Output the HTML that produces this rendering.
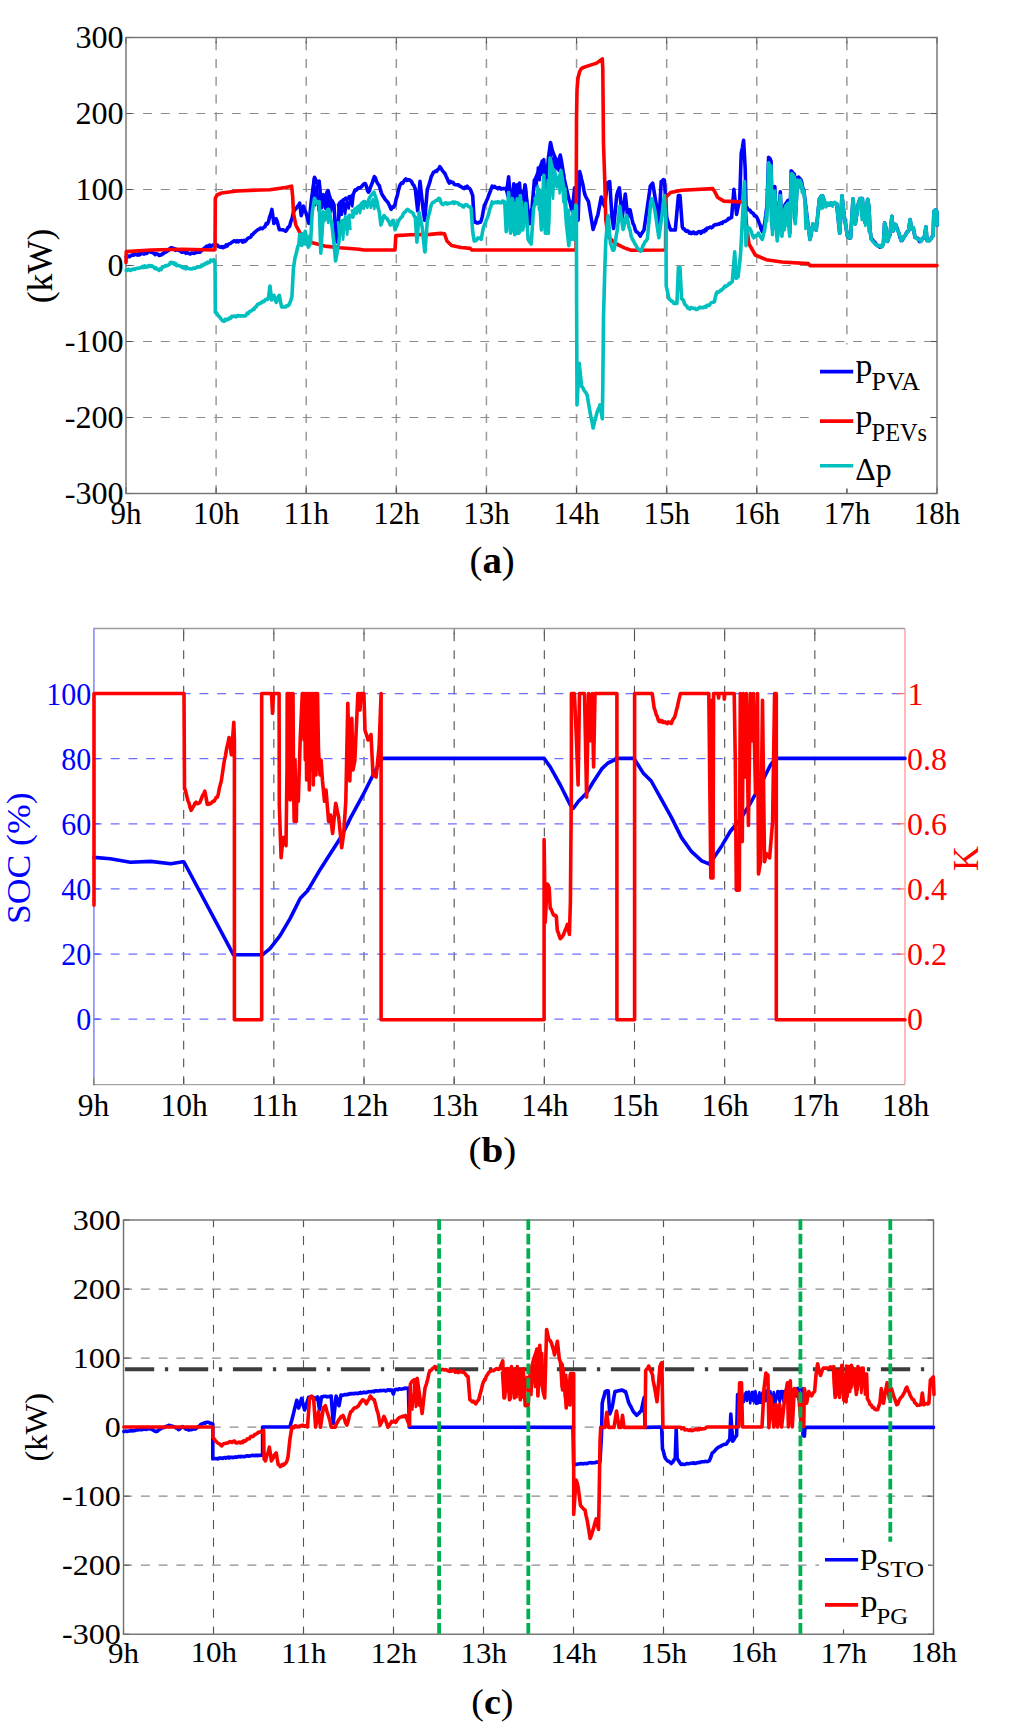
<!DOCTYPE html>
<html><head><meta charset="utf-8"><title>Figure</title>
<style>html,body{margin:0;padding:0;background:#fff;overflow:hidden} svg{display:block}</style></head>
<body><svg width="1024" height="1733" viewBox="0 0 1024 1733">
<rect width="1024" height="1733" fill="#fff"/>
<line x1="216.11" y1="37.5" x2="216.11" y2="493.5" stroke="#9a9a9a" stroke-width="1.5" stroke-dasharray="8.9 8.85" stroke-dashoffset="-3.85"/>
<line x1="306.22" y1="37.5" x2="306.22" y2="493.5" stroke="#9a9a9a" stroke-width="1.5" stroke-dasharray="8.9 8.85" stroke-dashoffset="-3.85"/>
<line x1="396.33" y1="37.5" x2="396.33" y2="493.5" stroke="#9a9a9a" stroke-width="1.5" stroke-dasharray="8.9 8.85" stroke-dashoffset="-3.85"/>
<line x1="486.44" y1="37.5" x2="486.44" y2="493.5" stroke="#9a9a9a" stroke-width="1.5" stroke-dasharray="8.9 8.85" stroke-dashoffset="-3.85"/>
<line x1="576.56" y1="37.5" x2="576.56" y2="493.5" stroke="#9a9a9a" stroke-width="1.5" stroke-dasharray="8.9 8.85" stroke-dashoffset="-3.85"/>
<line x1="666.67" y1="37.5" x2="666.67" y2="493.5" stroke="#9a9a9a" stroke-width="1.5" stroke-dasharray="8.9 8.85" stroke-dashoffset="-3.85"/>
<line x1="756.78" y1="37.5" x2="756.78" y2="493.5" stroke="#9a9a9a" stroke-width="1.5" stroke-dasharray="8.9 8.85" stroke-dashoffset="-3.85"/>
<line x1="846.89" y1="37.5" x2="846.89" y2="493.5" stroke="#9a9a9a" stroke-width="1.5" stroke-dasharray="8.9 8.85" stroke-dashoffset="-3.85"/>
<line x1="126.0" y1="113.50" x2="937.0" y2="113.50" stroke="#8c8c8c" stroke-width="1.2" stroke-dasharray="8.9 8.85" stroke-dashoffset="0.65"/>
<line x1="126.0" y1="189.50" x2="937.0" y2="189.50" stroke="#8c8c8c" stroke-width="1.2" stroke-dasharray="8.9 8.85" stroke-dashoffset="0.65"/>
<line x1="126.0" y1="265.50" x2="937.0" y2="265.50" stroke="#8c8c8c" stroke-width="1.2" stroke-dasharray="8.9 8.85" stroke-dashoffset="0.65"/>
<line x1="126.0" y1="341.50" x2="937.0" y2="341.50" stroke="#8c8c8c" stroke-width="1.2" stroke-dasharray="8.9 8.85" stroke-dashoffset="0.65"/>
<line x1="126.0" y1="417.50" x2="937.0" y2="417.50" stroke="#8c8c8c" stroke-width="1.2" stroke-dasharray="8.9 8.85" stroke-dashoffset="0.65"/>
<line x1="126.00" y1="493.5" x2="126.00" y2="487.5" stroke="#555" stroke-width="1.1"/>
<line x1="126.00" y1="37.5" x2="126.00" y2="43.5" stroke="#555" stroke-width="1.1"/>
<line x1="216.11" y1="493.5" x2="216.11" y2="487.5" stroke="#555" stroke-width="1.1"/>
<line x1="216.11" y1="37.5" x2="216.11" y2="43.5" stroke="#555" stroke-width="1.1"/>
<line x1="306.22" y1="493.5" x2="306.22" y2="487.5" stroke="#555" stroke-width="1.1"/>
<line x1="306.22" y1="37.5" x2="306.22" y2="43.5" stroke="#555" stroke-width="1.1"/>
<line x1="396.33" y1="493.5" x2="396.33" y2="487.5" stroke="#555" stroke-width="1.1"/>
<line x1="396.33" y1="37.5" x2="396.33" y2="43.5" stroke="#555" stroke-width="1.1"/>
<line x1="486.44" y1="493.5" x2="486.44" y2="487.5" stroke="#555" stroke-width="1.1"/>
<line x1="486.44" y1="37.5" x2="486.44" y2="43.5" stroke="#555" stroke-width="1.1"/>
<line x1="576.56" y1="493.5" x2="576.56" y2="487.5" stroke="#555" stroke-width="1.1"/>
<line x1="576.56" y1="37.5" x2="576.56" y2="43.5" stroke="#555" stroke-width="1.1"/>
<line x1="666.67" y1="493.5" x2="666.67" y2="487.5" stroke="#555" stroke-width="1.1"/>
<line x1="666.67" y1="37.5" x2="666.67" y2="43.5" stroke="#555" stroke-width="1.1"/>
<line x1="756.78" y1="493.5" x2="756.78" y2="487.5" stroke="#555" stroke-width="1.1"/>
<line x1="756.78" y1="37.5" x2="756.78" y2="43.5" stroke="#555" stroke-width="1.1"/>
<line x1="846.89" y1="493.5" x2="846.89" y2="487.5" stroke="#555" stroke-width="1.1"/>
<line x1="846.89" y1="37.5" x2="846.89" y2="43.5" stroke="#555" stroke-width="1.1"/>
<line x1="937.00" y1="493.5" x2="937.00" y2="487.5" stroke="#555" stroke-width="1.1"/>
<line x1="937.00" y1="37.5" x2="937.00" y2="43.5" stroke="#555" stroke-width="1.1"/>
<line x1="126.0" y1="37.50" x2="132.0" y2="37.50" stroke="#555" stroke-width="1.1"/>
<line x1="937.0" y1="37.50" x2="931.0" y2="37.50" stroke="#555" stroke-width="1.1"/>
<line x1="126.0" y1="113.50" x2="132.0" y2="113.50" stroke="#555" stroke-width="1.1"/>
<line x1="937.0" y1="113.50" x2="931.0" y2="113.50" stroke="#555" stroke-width="1.1"/>
<line x1="126.0" y1="189.50" x2="132.0" y2="189.50" stroke="#555" stroke-width="1.1"/>
<line x1="937.0" y1="189.50" x2="931.0" y2="189.50" stroke="#555" stroke-width="1.1"/>
<line x1="126.0" y1="265.50" x2="132.0" y2="265.50" stroke="#555" stroke-width="1.1"/>
<line x1="937.0" y1="265.50" x2="931.0" y2="265.50" stroke="#555" stroke-width="1.1"/>
<line x1="126.0" y1="341.50" x2="132.0" y2="341.50" stroke="#555" stroke-width="1.1"/>
<line x1="937.0" y1="341.50" x2="931.0" y2="341.50" stroke="#555" stroke-width="1.1"/>
<line x1="126.0" y1="417.50" x2="132.0" y2="417.50" stroke="#555" stroke-width="1.1"/>
<line x1="937.0" y1="417.50" x2="931.0" y2="417.50" stroke="#555" stroke-width="1.1"/>
<line x1="126.0" y1="493.50" x2="132.0" y2="493.50" stroke="#555" stroke-width="1.1"/>
<line x1="937.0" y1="493.50" x2="931.0" y2="493.50" stroke="#555" stroke-width="1.1"/>
<rect x="126.0" y="37.5" width="811.0" height="456.0" fill="none" stroke="#707070" stroke-width="1.4"/>
<polyline points="310.0,205.8 311.6,204.6 313.8,179.0 315.3,205.1 317.0,185.4 318.7,211.4" fill="none" stroke="#0000ff" stroke-width="2.6" stroke-linejoin="round"/>
<polyline points="320.0,197.4 321.9,207.6 323.2,194.0 325.3,208.9 326.5,191.8 328.2,210.1 329.5,196.5 330.9,211.8 332.2,201.9 334.2,211.1" fill="none" stroke="#0000ff" stroke-width="2.6" stroke-linejoin="round"/>
<polyline points="338.0,203.5 339.4,216.5 340.7,201.0 341.9,214.8 343.2,199.2 345.2,214.0 346.8,200.0 348.7,208.6 350.8,196.0 352.3,206.4 353.6,195.1" fill="none" stroke="#0000ff" stroke-width="2.6" stroke-linejoin="round"/>
<polyline points="505.6,187.9 507.5,196.4 509.6,187.5 511.4,200.5 513.4,186.2 515.0,201.3 516.7,188.6 518.0,203.8 519.2,184.8 520.9,202.7 522.4,191.0 523.8,199.7 525.8,186.1 527.0,202.2" fill="none" stroke="#0000ff" stroke-width="2.6" stroke-linejoin="round"/>
<polyline points="534.4,180.1 536.6,186.4 537.9,167.6 539.6,180.3 540.8,165.7 542.2,174.6 544.2,163.8 545.9,177.4 547.5,164.4 549.3,173.7 550.7,144.1 551.9,173.5 553.7,158.2 555.7,169.4 557.0,161.7 558.6,170.8 560.8,159.0 562.9,176.3 564.9,174.1" fill="none" stroke="#0000ff" stroke-width="2.6" stroke-linejoin="round"/>
<polyline points="126.2,257.0 127.3,256.1 128.3,256.0 129.4,256.8 130.4,256.2 131.4,255.3 132.5,254.9 133.5,255.2 134.6,254.0 135.6,254.4 136.6,254.6 137.7,255.1 138.7,253.4 139.7,254.8 140.7,254.1 141.8,252.7 142.8,253.3 143.8,254.1 144.8,253.6 145.9,252.6 146.9,253.4 147.9,252.1 148.9,251.7 150.0,251.7 151.0,252.3 152.0,252.3 153.0,253.0 154.0,253.0 155.0,254.6 156.0,253.6 157.0,253.9 158.0,254.2 159.0,255.5 160.0,255.1 161.1,255.0 162.1,253.8 163.2,253.9 164.2,252.7 165.2,252.4 166.3,251.9 167.3,250.4 168.4,250.6 169.4,249.0 170.5,247.9 171.5,247.7 172.5,248.0 173.5,248.9 174.5,248.6 175.5,250.3 176.5,249.3 177.5,249.9 178.5,250.1 179.5,250.7 180.5,250.4 181.5,252.2 182.5,252.3 183.6,252.1 184.7,251.8 185.8,253.3 187.0,252.6 188.1,253.1 189.2,253.6 190.3,254.0 191.3,253.0 192.4,253.0 193.4,253.4 194.5,253.2 195.5,252.5 196.6,252.4 197.6,252.2 198.7,252.0 199.7,252.3 200.8,251.4 201.9,249.9 203.0,249.6 204.2,248.1 205.3,248.5 206.4,246.2 207.5,246.0 208.6,246.7 209.7,245.1 210.8,246.3 212.0,245.8 213.1,244.9 214.2,246.0 215.3,245.3 216.4,245.1 217.5,245.1 218.6,246.6 219.7,246.8 220.8,247.3 221.9,246.6 223.0,247.7 224.1,246.5 225.1,246.8 226.2,244.8 227.3,245.9 228.3,244.3 229.4,243.8 230.5,243.6 231.6,242.4 232.7,241.7 233.9,240.9 235.0,240.9 236.1,241.9 237.2,240.6 238.3,241.8 239.4,240.7 240.5,240.7 241.7,240.6 242.8,242.2 243.9,240.3 245.0,241.4 246.2,240.2 247.3,238.7 248.5,237.9 249.7,237.5 250.8,237.1 251.8,234.8 252.8,234.5 253.9,233.0 254.9,232.3 256.0,231.2 257.1,230.3 258.2,229.6 259.3,229.1 260.4,228.1 261.5,228.4 262.6,228.7 263.8,227.3 264.9,226.9 266.1,223.6 267.2,224.2 268.4,221.9 269.6,216.9 270.7,214.1 271.9,209.4 273.9,223.4 275.1,221.9 276.2,218.8 277.3,221.7 278.3,225.7 279.4,229.7 281.7,229.7 283.0,229.9 284.3,230.4 285.6,231.2 286.9,229.7 288.2,227.1 289.5,226.6 290.8,221.7 292.1,218.0 293.4,212.5 294.5,210.0 295.5,209.3 296.6,207.8 297.6,206.2 298.7,205.3 299.7,203.1 301.2,215.6 302.4,211.9 303.6,206.2 304.6,209.8 305.7,212.0 306.7,215.6 307.9,219.9 309.0,223.4 311.4,200.0 314.5,177.3 315.7,179.7 316.9,182.8 318.0,182.6 319.2,181.2 321.6,207.8 322.8,201.9 323.9,195.3 325.1,197.2 326.2,196.9 328.1,190.6 329.5,196.1 330.9,200.0 331.9,200.6 333.0,202.7 334.0,204.7 335.6,232.8 337.2,242.0 339.5,203.1 340.8,202.9 342.1,201.3 343.4,200.0 344.6,199.3 345.8,198.2 346.9,199.4 348.1,198.4 349.2,196.8 350.2,196.5 351.2,196.9 352.6,195.6 353.9,192.8 355.2,189.8 356.3,190.2 357.4,188.8 358.4,187.7 359.5,188.0 360.6,187.5 361.8,186.4 363.0,184.8 364.1,183.8 365.3,183.6 366.3,185.9 367.4,190.3 368.4,192.2 369.4,190.7 370.4,187.4 371.4,184.9 372.4,182.3 373.4,179.2 374.4,176.6 375.4,177.8 376.4,181.2 377.4,183.0 378.4,184.5 379.4,185.9 380.4,190.0 381.5,193.2 382.5,195.3 383.7,196.9 384.9,199.0 386.0,200.3 387.2,201.6 388.5,203.4 389.8,206.4 391.1,209.4 392.4,206.9 393.7,207.1 395.0,204.7 396.2,198.9 397.4,195.4 398.5,189.9 399.7,185.9 400.7,184.0 401.8,182.8 402.8,183.2 403.8,181.2 404.9,179.7 405.9,178.9 407.0,180.5 408.1,179.9 409.2,179.9 410.3,180.5 411.4,181.2 412.7,184.3 414.0,185.6 415.3,189.0 417.7,210.9 420.0,181.2 423.1,209.4 424.7,220.3 427.3,189.4 428.6,185.8 429.9,181.9 431.2,176.9 432.4,174.5 433.6,172.2 434.6,171.8 435.7,170.9 436.7,171.4 437.7,169.7 438.8,168.8 439.8,166.7 441.1,168.3 442.4,170.6 443.8,172.2 444.9,173.5 446.1,176.3 447.2,178.6 448.4,181.6 449.5,183.1 450.6,181.5 451.8,182.3 452.9,182.3 454.0,184.1 455.1,184.6 456.2,184.7 457.4,184.9 458.5,184.8 459.6,186.2 460.7,186.2 461.8,187.3 462.9,187.8 464.0,188.6 465.1,187.2 466.1,187.8 467.2,186.2 468.2,187.7 469.3,188.3 470.3,189.4 471.5,192.3 472.7,195.6 474.2,222.2 475.5,221.6 476.8,223.0 478.1,223.0 479.2,222.2 480.2,222.3 481.2,220.6 482.3,216.4 483.3,210.9 484.4,205.0 485.4,203.7 486.5,200.8 487.5,198.8 488.7,195.3 489.9,192.5 491.0,189.4 492.2,186.2 493.4,187.3 494.5,186.3 495.7,187.6 496.9,187.8 497.9,188.8 499.0,187.5 500.0,187.7 501.0,189.1 502.1,188.8 503.1,188.6 505.5,188.6 507.0,189.4 508.6,176.9 510.2,195.6 511.7,215.0 513.8,183.9 515.6,210.0 517.2,184.7 518.8,212.0 519.5,183.1 521.9,214.0 525.0,184.7 527.3,205.0 529.7,223.8 532.0,208.0 534.4,180.0 535.4,178.9 536.5,176.1 537.5,173.8 538.6,171.6 539.8,167.5 541.0,165.1 542.2,161.2 543.8,159.7 544.5,184.7 545.3,203.4 546.9,176.9 548.4,158.1 550.5,142.5 552.3,150.3 553.5,153.8 554.7,156.6 555.7,158.5 556.8,161.2 557.8,164.4 559.0,160.5 560.3,155.0 561.4,160.9 562.5,167.5 564.2,178.6 565.4,184.2 566.5,188.9 567.7,194.1 568.9,199.4 570.0,202.2 571.2,207.8 572.3,210.9 574.6,187.8 578.1,220.1 579.7,171.6 580.8,175.8 581.8,180.5 582.9,184.5 583.9,190.4 585.0,194.7 586.2,197.6 587.3,199.4 588.5,201.7 593.1,229.4 594.2,225.9 595.4,223.0 596.6,218.1 597.7,215.5 598.9,209.4 600.0,203.7 601.2,197.0 602.4,199.8 603.5,204.0 604.7,206.3 607.3,183.1 608.5,182.3 609.7,181.6 612.0,217.5 613.6,228.4 616.7,195.6 618.0,190.9 619.4,187.8 622.2,217.5 625.3,194.0 627.7,217.5 628.9,214.6 630.0,209.7 631.0,214.3 632.1,219.6 633.1,223.8 634.1,225.4 635.2,229.7 636.2,231.6 637.6,232.4 638.9,233.9 640.2,236.2 641.5,233.7 642.7,231.9 644.0,230.0 647.2,208.1 650.3,186.2 651.5,184.6 652.7,183.1 656.6,206.6 658.9,223.8 661.2,181.6 662.3,180.9 663.4,179.5 664.4,180.0 666.7,217.5 668.0,221.9 669.3,226.4 670.6,230.0 675.3,230.0 678.4,195.6 680.0,195.6 682.3,226.9 683.3,228.8 684.3,228.8 685.3,230.5 686.4,231.4 687.4,230.7 688.4,231.3 689.4,233.1 690.4,232.3 691.5,233.5 692.5,232.4 693.6,232.0 694.6,233.7 695.6,233.1 696.7,233.6 697.7,232.2 698.8,231.8 699.8,231.6 700.9,233.3 701.9,232.3 702.9,230.9 704.0,231.7 705.0,229.7 706.0,230.5 707.1,228.1 708.1,228.4 709.2,227.6 710.3,227.1 711.4,227.8 712.6,227.0 713.7,225.4 714.8,224.9 715.9,224.5 716.9,224.6 718.0,224.1 719.0,224.3 720.1,223.5 721.1,222.8 722.2,223.3 723.2,221.7 724.3,221.5 725.3,221.4 726.3,220.4 727.4,220.1 728.5,218.4 729.5,218.7 730.5,217.7 731.6,217.5 733.9,189.4 736.6,214.4 737.6,209.1 738.7,204.4 739.7,200.3 741.2,153.4 742.4,147.5 743.6,140.2 745.2,169.0 746.0,206.6 747.0,207.4 748.0,209.7 749.0,209.7 750.1,210.5 751.1,212.2 752.2,212.8 753.4,213.5 754.5,215.9 755.7,215.7 756.9,217.5 758.0,219.8 759.1,222.7 760.1,225.1 761.2,229.3 762.3,231.6 763.5,227.4 764.7,223.5 767.0,205.6 768.6,157.3 769.8,158.3 771.0,160.9 772.5,229.8 774.8,186.5 777.2,236.8 780.3,191.9 781.9,232.8 785.0,204.8 786.0,203.4 787.1,201.8 788.1,200.3 789.7,233.2 791.2,170.8 792.3,171.9 793.4,173.5 794.4,174.2 795.2,221.1 797.5,177.4 798.5,177.1 799.6,178.6 800.6,179.2 801.6,181.9 802.7,187.7 803.8,190.3 806.9,215.5 810.0,239.5 811.0,234.6 812.1,228.3 813.1,223.9 814.1,226.9 815.2,227.3 816.2,230.1 819.4,198.9 820.4,197.5 821.5,195.8 822.5,195.7 823.5,198.6 824.6,202.5 825.6,205.1 826.6,204.0 827.7,205.2 828.8,204.1 829.8,204.7 830.9,203.0 831.9,203.5 836.6,203.5 839.7,233.2 842.0,195.7 844.4,217.6 847.5,236.4 848.5,237.8 849.6,237.9 850.6,237.9 853.0,198.9 855.3,223.9 858.4,203.5 860.0,198.6 862.4,198.6 863.6,216.4 865.2,222.8 867.7,199.4 868.9,206.7 870.1,230.9 871.3,239.0 872.5,239.4 873.8,241.8 875.0,242.2 876.2,244.6 877.4,245.7 878.6,245.5 879.8,247.1 881.0,247.1 882.2,246.3 883.4,243.8 884.6,222.8 885.9,227.7 887.5,241.4 888.7,237.4 889.9,234.9 891.9,216.4 893.1,230.9 894.4,228.3 895.6,224.4 896.8,227.4 898.0,230.9 899.1,233.9 900.1,237.7 901.2,240.6 902.2,240.4 903.2,238.6 904.2,236.4 905.2,235.8 906.3,233.1 907.4,231.7 908.5,230.9 910.1,219.6 911.7,229.3 913.3,227.7 915.0,237.4 916.1,237.7 917.2,238.1 918.4,238.8 919.5,241.6 920.6,241.4 921.6,239.2 922.6,238.2 923.6,238.2 924.6,235.8 925.9,226.9 927.1,240.6 928.2,240.4 929.2,240.5 930.3,239.8 931.7,237.3 933.1,235.8 933.9,211.5 935.6,209.9 936.8,211.5 937.2,225.1" fill="none" stroke="#0000ff" stroke-width="3.6" stroke-linejoin="round" stroke-linecap="round"/>
<polyline points="126.0,262.5 126.3,251.6 151.2,250.0 182.5,249.2 213.8,250.0 215.0,249.5 215.3,198.4 217.0,195.0 221.6,193.0 237.0,191.0 260.0,190.0 270.0,189.8 285.6,187.5 291.6,186.2 292.7,196.9 293.4,212.5 295.8,225.0 301.2,235.2 310.6,242.2 324.7,246.1 340.3,247.7 359.0,249.2 363.8,250.0 395.0,250.0 395.8,235.6 410.6,234.7 430.0,234.4 440.6,233.4 444.5,233.9 446.9,240.9 451.6,245.6 460.9,247.5 470.3,248.4 471.9,250.0 576.0,250.0 576.2,220.0 576.5,120.0 577.0,90.0 578.0,78.0 579.5,72.0 581.0,69.0 582.7,67.7 589.6,65.4 596.6,63.1 602.3,58.9 602.8,70.0 603.5,144.0 604.7,178.6 605.8,220.0 608.1,236.3 615.0,243.2 624.3,247.9 631.2,250.2 664.4,250.0 665.6,249.0 665.8,197.2 670.6,192.5 681.6,190.2 712.8,188.6 715.2,192.5 717.5,197.2 723.8,201.1 740.5,201.9 745.0,202.0 746.5,225.0 749.0,244.0 755.3,255.0 766.2,259.7 781.9,262.0 808.4,263.6 810.0,265.6 937.0,265.6" fill="none" stroke="#ff0000" stroke-width="3.6" stroke-linejoin="round" stroke-linecap="round"/>
<polyline points="300.0,234.1 301.5,245.9 302.7,233.2 304.9,244.5 306.2,235.0 308.3,247.7 309.6,234.6" fill="none" stroke="#00bfbf" stroke-width="2.6" stroke-linejoin="round"/>
<polyline points="320.0,208.3 321.2,225.7 323.1,211.4 324.7,220.9 326.3,212.3 328.3,222.9 330.0,213.4 331.6,225.5" fill="none" stroke="#00bfbf" stroke-width="2.6" stroke-linejoin="round"/>
<polyline points="338.0,221.2 339.4,238.7 341.4,220.4 343.1,239.6 345.2,215.8 347.2,234.6 349.1,214.9 350.5,230.2" fill="none" stroke="#00bfbf" stroke-width="2.6" stroke-linejoin="round"/>
<polyline points="351.5,209.3 352.7,213.7 354.7,208.7 356.7,213.8 358.2,207.1 360.0,213.2 362.2,202.9 363.7,208.9 365.6,202.1 367.3,207.9 369.2,200.2 370.8,207.9 372.8,199.1 374.3,209.0 375.7,199.6 377.6,208.4" fill="none" stroke="#00bfbf" stroke-width="2.6" stroke-linejoin="round"/>
<polyline points="505.6,201.4 507.2,230.8 508.5,197.9 510.3,224.3 511.7,197.8 513.6,231.7 514.9,202.7 516.9,233.6 518.7,203.3 520.1,232.1 522.0,201.5 524.1,226.9 526.0,203.8 527.7,231.8" fill="none" stroke="#00bfbf" stroke-width="2.6" stroke-linejoin="round"/>
<polyline points="534.4,197.4 536.0,204.7 537.8,185.9 539.0,209.9 541.1,191.3 542.9,225.5 544.2,188.9 546.1,228.4 547.6,180.1 549.0,225.1 551.1,166.1 553.0,198.6 554.7,170.0 556.6,187.4 558.1,177.1 559.7,193.4 561.7,174.9 563.4,202.1 565.4,188.4 567.4,224.9 568.9,209.8 570.8,240.0 572.6,211.1 574.4,232.4" fill="none" stroke="#00bfbf" stroke-width="2.6" stroke-linejoin="round"/>
<polyline points="765.5,213.7 767.2,221.2 769.3,176.6 771.1,224.9 772.9,196.8 775.0,227.0 776.7,206.0 777.9,236.9 779.2,210.0 781.2,235.8 783.2,209.5 784.8,230.2 786.5,212.6 787.7,225.8 789.1,208.1 791.3,218.7 792.7,187.4 794.5,208.8 796.6,185.0 798.5,188.6 800.2,179.7 801.9,192.9 804.0,190.6 805.5,228.9 806.8,209.0" fill="none" stroke="#00bfbf" stroke-width="2.6" stroke-linejoin="round"/>
<polyline points="818.6,204.2 820.5,209.3 821.8,199.8 823.0,208.4 824.3,200.6 825.9,207.4 827.5,202.7 828.8,205.7 830.7,202.6 832.5,206.7 834.6,201.8 836.1,204.9" fill="none" stroke="#00bfbf" stroke-width="2.6" stroke-linejoin="round"/>
<polyline points="860.0,203.6 861.8,220.1 863.4,204.7 865.4,225.9 866.8,202.0 868.6,231.4 870.0,214.8" fill="none" stroke="#00bfbf" stroke-width="2.6" stroke-linejoin="round"/>
<polyline points="126.2,270.3 127.3,270.5 128.3,269.2 129.4,269.4 130.4,270.5 131.4,269.9 132.5,269.2 133.5,269.0 134.6,269.5 135.6,268.8 136.6,268.3 137.6,268.2 138.6,268.2 139.6,268.0 140.6,267.5 141.6,267.6 142.6,266.4 143.7,267.5 144.7,266.0 145.7,267.2 146.7,266.4 147.7,267.0 148.7,265.6 149.7,265.6 150.7,266.5 151.8,265.7 152.8,266.7 153.8,266.9 154.9,268.6 155.9,267.9 156.9,269.3 158.0,269.2 159.0,270.3 160.0,268.9 161.1,269.6 162.1,267.7 163.2,266.7 164.2,266.7 165.2,265.6 166.3,266.0 167.3,265.2 168.4,265.2 169.4,264.3 170.5,262.4 171.5,262.2 172.5,263.5 173.5,262.6 174.5,264.4 175.5,263.3 176.5,265.6 177.5,265.2 178.5,265.5 179.5,265.8 180.5,266.3 181.5,266.3 182.5,267.5 183.6,268.0 184.7,267.5 185.8,268.9 187.0,267.4 188.1,268.3 189.2,268.8 190.3,268.8 191.3,269.0 192.4,268.7 193.4,268.0 194.5,268.4 195.5,268.2 196.6,267.3 197.6,267.2 198.7,266.8 199.7,266.9 200.8,266.8 201.9,264.8 203.0,265.6 204.2,264.4 205.3,263.3 206.4,263.8 207.5,262.2 208.5,262.8 209.6,262.4 210.6,260.1 211.7,260.5 212.7,261.0 213.8,259.7 215.0,262.5 215.3,312.5 216.4,312.6 217.5,314.5 218.6,316.1 219.7,316.9 220.8,318.7 221.9,319.9 223.0,321.0 224.1,321.3 225.1,319.4 226.2,320.1 227.3,319.0 228.3,319.5 229.4,318.0 230.5,318.4 231.6,316.3 232.7,316.8 233.9,316.1 235.0,316.3 236.1,317.0 237.2,315.6 245.0,316.0 246.1,315.2 247.2,313.2 248.3,313.7 249.5,311.6 250.6,311.2 251.7,310.6 252.8,309.4 253.9,309.4 255.0,307.2 256.1,307.0 257.3,304.7 258.4,303.9 259.5,303.8 260.6,303.0 261.7,302.5 262.8,301.2 263.9,301.6 265.1,300.0 266.2,299.2 267.3,299.5 268.4,298.4 270.0,286.0 271.6,300.0 272.8,298.1 273.9,295.3 275.1,299.8 276.2,302.3 277.3,299.2 278.3,296.7 279.4,295.3 280.5,301.9 281.7,307.0 285.6,307.0 286.9,305.5 288.2,305.8 289.5,303.9 290.7,300.6 291.9,296.9 293.4,268.8 295.0,257.8 296.3,253.3 297.6,247.3 298.9,243.8 299.7,234.4 300.9,240.0 302.0,245.3 303.1,241.4 304.1,237.0 305.2,231.2 306.2,236.2 307.3,241.0 308.3,246.9 309.5,245.4 310.6,242.2 312.2,212.5 314.5,198.4 315.7,200.6 316.9,203.1 318.0,202.2 319.2,201.6 320.8,253.1 323.1,215.6 324.3,214.0 325.5,212.5 326.5,211.6 327.6,209.5 328.6,209.4 329.6,213.0 330.7,219.3 331.7,223.4 334.0,243.8 335.6,261.0 336.7,255.0 337.7,248.2 338.8,242.2 341.1,225.0 342.2,223.0 343.4,220.3 344.5,220.3 345.5,218.8 346.6,218.8 347.6,217.5 348.7,216.1 349.7,215.6 350.7,215.3 351.8,216.9 352.8,217.2 354.0,213.8 355.2,209.4 356.5,208.6 357.7,206.8 359.0,206.2 360.2,205.4 361.4,203.7 362.6,202.6 363.8,201.6 364.8,201.6 365.8,204.3 366.9,204.7 367.9,203.0 369.0,199.0 370.0,196.9 371.3,195.0 372.6,193.7 373.9,192.2 374.9,195.1 376.0,198.2 377.0,201.6 378.2,207.6 379.4,212.5 380.9,225.0 381.9,222.2 383.0,218.3 384.0,215.6 385.1,216.9 386.1,218.1 387.2,218.8 388.2,220.7 389.3,222.4 390.3,225.0 391.3,224.2 392.4,220.8 393.4,220.3 395.0,229.7 396.0,227.6 397.1,225.2 398.1,221.9 399.2,219.7 400.2,218.9 401.2,217.2 402.3,216.7 403.3,213.6 404.4,212.5 405.4,211.7 406.5,210.2 407.5,209.4 408.7,210.0 409.9,211.5 411.0,211.8 412.2,212.5 413.2,213.6 414.3,216.2 415.3,217.2 416.9,242.2 419.2,212.5 420.2,217.8 421.3,222.5 422.3,228.1 424.7,251.6 425.0,251.9 427.3,220.6 428.6,215.6 429.9,210.7 431.2,205.0 432.3,203.0 433.3,202.2 434.4,201.9 435.5,200.9 436.6,200.1 437.6,200.2 438.7,198.4 439.8,198.8 441.0,202.4 442.2,204.2 443.2,204.6 444.3,203.8 445.3,203.0 446.3,202.7 447.4,204.1 448.4,203.4 449.5,203.4 450.6,203.0 451.8,202.7 452.9,202.0 454.0,203.5 455.1,202.2 456.2,202.7 457.3,202.8 458.3,203.4 459.4,204.8 460.4,204.8 461.5,205.1 462.5,206.6 463.7,207.0 464.9,205.1 466.0,204.8 467.2,205.0 468.5,206.6 469.8,207.0 471.1,208.1 472.7,231.6 474.2,240.9 475.5,240.8 476.8,239.7 478.1,237.8 479.2,238.5 480.2,238.1 481.2,239.4 482.4,232.7 483.6,226.9 484.9,224.1 486.2,220.2 487.5,217.5 488.7,213.6 489.9,208.9 491.0,205.9 492.2,201.9 493.4,203.1 494.5,202.6 495.7,202.0 496.9,202.7 498.0,201.7 499.1,202.7 500.2,202.5 501.4,202.8 502.5,201.0 503.6,201.2 504.7,201.9 506.2,231.6 508.6,192.5 510.6,233.1 512.5,198.8 514.8,234.7 517.2,198.8 518.8,233.1 520.3,195.6 522.7,230.0 525.8,203.4 528.1,239.4 529.1,241.2 530.2,242.6 531.2,244.0 533.6,208.1 534.6,204.4 535.7,200.6 536.7,195.6 537.9,193.1 539.0,189.4 541.4,230.0 543.8,175.3 545.3,233.1 548.4,233.1 550.0,158.1 551.1,163.0 552.3,167.5 553.5,170.9 554.7,172.2 555.7,176.0 556.8,180.0 557.8,184.7 558.8,179.5 559.9,175.6 560.9,170.6 564.0,189.4 566.4,223.8 568.8,245.6 571.1,217.5 573.4,239.4 575.8,205.0 576.4,206.6 576.6,300.0 577.0,404.9 579.2,363.3 581.6,386.4 582.7,387.4 583.9,389.9 585.0,391.6 586.2,393.0 587.3,395.7 588.5,403.3 589.6,409.5 590.8,416.4 591.9,421.3 593.1,428.0 594.3,422.5 595.4,419.0 596.6,414.1 597.7,410.4 598.9,408.2 600.0,404.9 602.3,418.8 602.8,386.4 603.5,317.0 605.0,262.8 605.8,241.0 608.1,215.5 610.4,243.2 611.6,246.5 612.8,250.3 613.9,250.2 615.1,244.1 616.2,235.9 617.4,229.4 619.7,206.3 623.1,229.4 624.3,224.8 625.4,219.2 626.6,215.5 627.8,220.4 628.9,226.8 630.1,230.3 631.2,236.3 632.5,239.4 633.7,241.3 635.0,244.0 636.1,245.6 637.2,247.8 638.3,249.3 639.4,249.7 640.5,251.3 641.7,250.0 642.8,246.0 644.0,244.0 645.1,241.6 646.3,240.7 647.4,238.6 650.8,201.7 651.9,198.8 652.9,203.1 654.0,207.1 655.0,211.2 658.9,237.8 662.0,214.4 664.4,195.6 666.0,223.8 666.2,286.2 667.6,292.1 669.0,298.8 670.2,299.8 671.4,301.2 672.6,301.2 673.8,303.4 676.9,303.4 678.4,267.5 680.0,267.5 681.6,298.8 682.6,299.4 683.7,300.9 684.7,304.2 685.7,305.2 686.8,306.1 687.8,308.1 688.8,308.4 689.9,309.1 690.9,307.5 692.0,307.8 693.0,308.2 694.1,308.5 695.1,308.4 696.2,309.6 697.2,308.9 698.3,308.7 699.4,307.3 700.5,307.4 701.7,307.6 702.8,307.8 703.9,307.2 705.0,306.6 706.0,307.2 707.1,305.2 708.1,305.3 709.2,305.5 710.2,303.9 711.3,302.7 712.3,302.3 713.4,302.2 714.4,301.9 715.5,296.4 716.7,292.5 717.7,291.8 718.7,292.2 719.7,291.3 720.7,290.0 721.7,290.1 722.7,288.8 723.8,287.8 724.8,286.1 725.9,286.6 727.0,285.7 728.0,285.0 729.1,283.4 730.2,283.7 731.2,282.4 732.3,281.6 734.7,251.9 736.2,278.4 738.1,276.9 740.5,255.0 742.0,226.9 744.4,181.6 746.0,245.6 747.5,226.9 748.5,229.0 749.6,228.1 750.6,230.0 751.6,232.7 752.7,236.0 753.8,237.8 754.9,235.9 756.1,236.0 757.2,235.2 758.4,233.1 759.7,235.7 761.0,237.6 762.3,239.4 763.5,234.1 764.7,230.0 767.0,211.2 768.6,162.8 769.8,165.3 771.0,166.0 772.5,234.7 774.8,191.0 777.2,241.0 780.3,195.6 781.9,236.2 785.0,208.1 786.0,205.6 787.1,204.7 788.1,203.4 789.7,236.2 791.2,173.8 792.3,173.8 793.4,175.8 794.4,176.9 795.2,223.8 797.5,180.0 798.5,181.1 799.6,181.1 800.6,181.6 801.6,184.6 802.7,189.2 803.8,192.5 806.9,217.5 810.0,239.4 811.0,234.7 812.1,228.4 813.1,223.8 814.1,225.5 815.2,227.3 816.2,230.0 819.4,198.8 820.4,197.6 821.5,195.7 822.5,195.6 823.5,198.6 824.6,201.0 825.6,205.0 826.6,204.2 827.7,205.5 828.8,203.3 829.8,203.5 830.9,203.4 831.9,203.4 836.6,203.4 839.7,233.1 842.0,195.6 844.4,217.5 847.5,236.2 848.5,237.5 849.6,236.4 850.6,237.8 853.0,198.8 855.3,223.8 858.4,203.4 860.0,198.5 862.4,198.5 863.6,216.3 865.2,222.7 867.7,199.3 868.9,206.6 870.1,230.8 871.3,238.9 872.5,241.2 873.8,242.2 875.0,244.0 876.2,244.5 877.4,245.8 878.6,245.9 879.8,245.4 881.0,247.0 882.2,246.2 883.4,243.7 884.6,222.7 885.9,227.6 887.5,241.3 888.7,238.2 889.9,234.8 891.9,216.3 893.1,230.8 894.4,226.8 895.6,224.3 896.8,228.5 898.0,230.8 899.1,233.3 900.1,236.6 901.2,240.5 902.2,239.5 903.2,238.6 904.2,236.1 905.2,235.7 906.3,233.8 907.4,232.3 908.5,230.8 910.1,219.5 911.7,229.2 913.3,227.6 915.0,237.3 916.1,238.0 917.2,238.9 918.4,239.6 919.5,239.4 920.6,241.3 921.6,240.9 922.6,238.7 923.6,237.6 924.6,235.7 925.9,226.8 927.1,240.5 928.2,240.6 929.2,241.0 930.3,239.7 931.7,237.8 933.1,235.7 933.9,211.4 935.6,209.8 936.8,211.4 937.2,225.0" fill="none" stroke="#00bfbf" stroke-width="3.6" stroke-linejoin="round" stroke-linecap="round"/>
<text transform="translate(123.69,48.15) scale(0.3220,0.3220)" font-size="100" text-anchor="end" fill="#000" font-family="Liberation Serif, Times New Roman, serif">300</text>
<text transform="translate(123.69,124.15) scale(0.3220,0.3220)" font-size="100" text-anchor="end" fill="#000" font-family="Liberation Serif, Times New Roman, serif">200</text>
<text transform="translate(123.69,200.15) scale(0.3220,0.3220)" font-size="100" text-anchor="end" fill="#000" font-family="Liberation Serif, Times New Roman, serif">100</text>
<text transform="translate(123.69,276.15) scale(0.3220,0.3220)" font-size="100" text-anchor="end" fill="#000" font-family="Liberation Serif, Times New Roman, serif">0</text>
<text transform="translate(123.69,352.15) scale(0.3220,0.3220)" font-size="100" text-anchor="end" fill="#000" font-family="Liberation Serif, Times New Roman, serif">-100</text>
<text transform="translate(123.69,428.15) scale(0.3220,0.3220)" font-size="100" text-anchor="end" fill="#000" font-family="Liberation Serif, Times New Roman, serif">-200</text>
<text transform="translate(123.69,504.15) scale(0.3220,0.3220)" font-size="100" text-anchor="end" fill="#000" font-family="Liberation Serif, Times New Roman, serif">-300</text>
<text transform="translate(125.99,524.29) scale(0.3100,0.3140)" font-size="100" text-anchor="middle" fill="#000" font-family="Liberation Serif, Times New Roman, serif">9h</text>
<text transform="translate(216.17,523.97) scale(0.3100,0.3140)" font-size="100" text-anchor="middle" fill="#000" font-family="Liberation Serif, Times New Roman, serif">10h</text>
<text transform="translate(306.28,524.29) scale(0.3100,0.3140)" font-size="100" text-anchor="middle" fill="#000" font-family="Liberation Serif, Times New Roman, serif">11h</text>
<text transform="translate(396.39,524.29) scale(0.3100,0.3140)" font-size="100" text-anchor="middle" fill="#000" font-family="Liberation Serif, Times New Roman, serif">12h</text>
<text transform="translate(486.50,524.29) scale(0.3100,0.3140)" font-size="100" text-anchor="middle" fill="#000" font-family="Liberation Serif, Times New Roman, serif">13h</text>
<text transform="translate(576.62,524.29) scale(0.3100,0.3140)" font-size="100" text-anchor="middle" fill="#000" font-family="Liberation Serif, Times New Roman, serif">14h</text>
<text transform="translate(666.73,524.29) scale(0.3100,0.3140)" font-size="100" text-anchor="middle" fill="#000" font-family="Liberation Serif, Times New Roman, serif">15h</text>
<text transform="translate(756.84,523.97) scale(0.3100,0.3140)" font-size="100" text-anchor="middle" fill="#000" font-family="Liberation Serif, Times New Roman, serif">16h</text>
<text transform="translate(846.95,524.29) scale(0.3100,0.3140)" font-size="100" text-anchor="middle" fill="#000" font-family="Liberation Serif, Times New Roman, serif">17h</text>
<text transform="translate(937.06,523.97) scale(0.3100,0.3140)" font-size="100" text-anchor="middle" fill="#000" font-family="Liberation Serif, Times New Roman, serif">18h</text>
<text transform="translate(52.36,303.32) rotate(-90) scale(0.3542,0.3517)" font-size="100" text-anchor="start" fill="#000" font-family="Liberation Serif, Times New Roman, serif">(kW)</text>
<text transform="translate(469.44,572.68) scale(0.3889,0.3722)" font-size="100" text-anchor="start" fill="#000" font-family="Liberation Serif, Times New Roman, serif">(<tspan font-weight="bold">a</tspan>)</text>
<rect x="812" y="344.5" width="118" height="144" fill="#fff"/>
<line x1="820" y1="371.6" x2="853.2" y2="371.6" stroke="#0000ff" stroke-width="3.6"/>
<line x1="820" y1="421.1" x2="853.2" y2="421.1" stroke="#ff0000" stroke-width="3.6"/>
<line x1="820" y1="465.8" x2="853.2" y2="465.8" stroke="#00bfbf" stroke-width="3.6"/>
<text transform="translate(855.58,375.97) scale(0.3375,0.3206)" font-size="100" text-anchor="start" fill="#000" font-family="Liberation Serif, Times New Roman, serif">p</text>
<text transform="translate(871.52,390.00) scale(0.2587,0.2515)" font-size="100" text-anchor="start" fill="#000" font-family="Liberation Serif, Times New Roman, serif">PVA</text>
<text transform="translate(855.58,426.84) scale(0.3375,0.3221)" font-size="100" text-anchor="start" fill="#000" font-family="Liberation Serif, Times New Roman, serif">p</text>
<text transform="translate(871.57,440.50) scale(0.2439,0.2507)" font-size="100" text-anchor="start" fill="#000" font-family="Liberation Serif, Times New Roman, serif">PEVs</text>
<text transform="translate(855.33,480.21) scale(0.3170,0.3092)" font-size="100" text-anchor="start" fill="#000" font-family="Liberation Serif, Times New Roman, serif">Δp</text>
<line x1="183.67" y1="628.5" x2="183.67" y2="1084.25" stroke="#505050" stroke-width="1.1" stroke-dasharray="8.9 8.85" stroke-dashoffset="-3.95"/>
<line x1="273.83" y1="628.5" x2="273.83" y2="1084.25" stroke="#505050" stroke-width="1.1" stroke-dasharray="8.9 8.85" stroke-dashoffset="-3.95"/>
<line x1="364.00" y1="628.5" x2="364.00" y2="1084.25" stroke="#505050" stroke-width="1.1" stroke-dasharray="8.9 8.85" stroke-dashoffset="-3.95"/>
<line x1="454.17" y1="628.5" x2="454.17" y2="1084.25" stroke="#505050" stroke-width="1.1" stroke-dasharray="8.9 8.85" stroke-dashoffset="-3.95"/>
<line x1="544.33" y1="628.5" x2="544.33" y2="1084.25" stroke="#505050" stroke-width="1.1" stroke-dasharray="8.9 8.85" stroke-dashoffset="-3.95"/>
<line x1="634.50" y1="628.5" x2="634.50" y2="1084.25" stroke="#505050" stroke-width="1.1" stroke-dasharray="8.9 8.85" stroke-dashoffset="-3.95"/>
<line x1="724.67" y1="628.5" x2="724.67" y2="1084.25" stroke="#505050" stroke-width="1.1" stroke-dasharray="8.9 8.85" stroke-dashoffset="-3.95"/>
<line x1="814.83" y1="628.5" x2="814.83" y2="1084.25" stroke="#505050" stroke-width="1.1" stroke-dasharray="8.9 8.85" stroke-dashoffset="-3.95"/>
<line x1="93.5" y1="693.61" x2="905.0" y2="693.61" stroke="#6e6eff" stroke-width="1.2" stroke-dasharray="8.9 8.85" stroke-dashoffset="0.55"/>
<line x1="93.5" y1="758.71" x2="905.0" y2="758.71" stroke="#6e6eff" stroke-width="1.2" stroke-dasharray="8.9 8.85" stroke-dashoffset="0.55"/>
<line x1="93.5" y1="823.82" x2="905.0" y2="823.82" stroke="#6e6eff" stroke-width="1.2" stroke-dasharray="8.9 8.85" stroke-dashoffset="0.55"/>
<line x1="93.5" y1="888.93" x2="905.0" y2="888.93" stroke="#6e6eff" stroke-width="1.2" stroke-dasharray="8.9 8.85" stroke-dashoffset="0.55"/>
<line x1="93.5" y1="954.04" x2="905.0" y2="954.04" stroke="#6e6eff" stroke-width="1.2" stroke-dasharray="8.9 8.85" stroke-dashoffset="0.55"/>
<line x1="93.5" y1="1019.14" x2="905.0" y2="1019.14" stroke="#6e6eff" stroke-width="1.2" stroke-dasharray="8.9 8.85" stroke-dashoffset="0.55"/>
<line x1="183.67" y1="1084.25" x2="183.67" y2="1078.25" stroke="#555" stroke-width="1.1"/>
<line x1="183.67" y1="628.5" x2="183.67" y2="634.5" stroke="#555" stroke-width="1.1"/>
<line x1="273.83" y1="1084.25" x2="273.83" y2="1078.25" stroke="#555" stroke-width="1.1"/>
<line x1="273.83" y1="628.5" x2="273.83" y2="634.5" stroke="#555" stroke-width="1.1"/>
<line x1="364.00" y1="1084.25" x2="364.00" y2="1078.25" stroke="#555" stroke-width="1.1"/>
<line x1="364.00" y1="628.5" x2="364.00" y2="634.5" stroke="#555" stroke-width="1.1"/>
<line x1="454.17" y1="1084.25" x2="454.17" y2="1078.25" stroke="#555" stroke-width="1.1"/>
<line x1="454.17" y1="628.5" x2="454.17" y2="634.5" stroke="#555" stroke-width="1.1"/>
<line x1="544.33" y1="1084.25" x2="544.33" y2="1078.25" stroke="#555" stroke-width="1.1"/>
<line x1="544.33" y1="628.5" x2="544.33" y2="634.5" stroke="#555" stroke-width="1.1"/>
<line x1="634.50" y1="1084.25" x2="634.50" y2="1078.25" stroke="#555" stroke-width="1.1"/>
<line x1="634.50" y1="628.5" x2="634.50" y2="634.5" stroke="#555" stroke-width="1.1"/>
<line x1="724.67" y1="1084.25" x2="724.67" y2="1078.25" stroke="#555" stroke-width="1.1"/>
<line x1="724.67" y1="628.5" x2="724.67" y2="634.5" stroke="#555" stroke-width="1.1"/>
<line x1="814.83" y1="1084.25" x2="814.83" y2="1078.25" stroke="#555" stroke-width="1.1"/>
<line x1="814.83" y1="628.5" x2="814.83" y2="634.5" stroke="#555" stroke-width="1.1"/>
<line x1="93.5" y1="693.61" x2="99.5" y2="693.61" stroke="#4040ff" stroke-width="1.1"/>
<line x1="905.0" y1="693.61" x2="897.0" y2="693.61" stroke="#ff6060" stroke-width="1.1"/>
<line x1="93.5" y1="758.71" x2="99.5" y2="758.71" stroke="#4040ff" stroke-width="1.1"/>
<line x1="905.0" y1="758.71" x2="897.0" y2="758.71" stroke="#ff6060" stroke-width="1.1"/>
<line x1="93.5" y1="823.82" x2="99.5" y2="823.82" stroke="#4040ff" stroke-width="1.1"/>
<line x1="905.0" y1="823.82" x2="897.0" y2="823.82" stroke="#ff6060" stroke-width="1.1"/>
<line x1="93.5" y1="888.93" x2="99.5" y2="888.93" stroke="#4040ff" stroke-width="1.1"/>
<line x1="905.0" y1="888.93" x2="897.0" y2="888.93" stroke="#ff6060" stroke-width="1.1"/>
<line x1="93.5" y1="954.04" x2="99.5" y2="954.04" stroke="#4040ff" stroke-width="1.1"/>
<line x1="905.0" y1="954.04" x2="897.0" y2="954.04" stroke="#ff6060" stroke-width="1.1"/>
<line x1="93.5" y1="1019.14" x2="99.5" y2="1019.14" stroke="#4040ff" stroke-width="1.1"/>
<line x1="905.0" y1="1019.14" x2="897.0" y2="1019.14" stroke="#ff6060" stroke-width="1.1"/>
<line x1="93.5" y1="628.5" x2="905.0" y2="628.5" stroke="#9a9a9a" stroke-width="1.4"/>
<line x1="93.5" y1="1084.65" x2="905.0" y2="1084.65" stroke="#a4a4a4" stroke-width="1.4"/>
<line x1="93.9" y1="1077.25" x2="93.9" y2="1085.25" stroke="#666" stroke-width="1.4"/>
<line x1="93.9" y1="628.5" x2="93.9" y2="1077.25" stroke="#7a7aff" stroke-width="1.4"/>
<line x1="905.0" y1="628.5" x2="905.0" y2="1084.25" stroke="#ff9c9c" stroke-width="1.4"/>
<polyline points="94.0,857.4 110.2,858.8 130.4,862.2 150.6,861.4 170.8,863.8 182.9,861.8 184.0,862.0 233.4,954.7 262.7,954.7 270.0,948.7 280.1,935.6 290.2,918.4 300.3,898.2 307.4,891.1 320.5,868.9 340.7,837.6 350.8,817.4 362.9,795.2 373.0,775.0 382.1,758.4 544.1,758.4 550.2,766.9 560.3,785.0 570.4,805.2 573.4,808.3 578.5,801.2 586.6,793.1 592.6,783.0 601.7,768.9 608.0,763.0 614.8,759.8 615.9,758.4 634.0,758.4 643.1,772.9 651.2,781.0 661.3,799.2 671.4,817.4 681.5,837.6 691.6,851.7 701.7,860.8 708.8,863.8 713.8,857.8 721.9,845.7 730.2,831.5 740.3,819.4 750.4,803.2 760.5,785.0 770.6,764.8 775.7,758.4 905.0,758.4" fill="none" stroke="#0000ff" stroke-width="3.6" stroke-linejoin="round" stroke-linecap="round"/>
<polyline points="94.0,905.2 94.0,693.5 184.0,693.5 184.5,789.0 185.0,789.0 186.0,792.7 187.0,797.0 188.0,800.9 189.0,803.0 190.0,807.2 191.0,810.3 192.0,809.1 193.0,806.9 194.0,805.7 195.0,803.2 196.0,802.2 197.0,803.5 198.0,803.6 199.0,803.2 200.0,802.2 201.2,799.2 202.4,795.9 203.6,794.1 204.8,791.1 206.0,797.1 207.2,804.2 208.2,804.4 209.2,803.3 210.2,803.9 211.2,803.2 212.2,802.0 213.2,801.1 214.2,801.1 215.3,799.0 216.3,797.2 217.3,797.2 218.3,794.2 219.3,788.4 220.3,784.6 221.3,781.0 224.3,760.8 225.5,755.6 226.7,748.1 227.8,744.0 229.0,737.6 231.4,754.8 233.8,722.4 234.4,740.6 234.4,1019.8 261.7,1019.8 261.7,693.5 271.5,693.5 272.5,713.3 273.5,693.5 279.1,693.5 279.3,805.2 281.1,857.8 283.0,837.6 284.1,837.6 286.0,845.7 287.0,768.9 287.2,693.5 288.2,693.5 288.8,760.0 289.4,693.5 290.2,800.0 291.0,693.5 291.6,693.5 292.2,740.6 293.0,693.5 293.6,790.0 294.2,821.4 295.0,760.0 296.3,821.4 297.0,780.0 298.3,801.2 300.3,736.6 302.3,693.5 303.3,693.5 304.0,740.0 304.6,693.5 305.3,760.0 306.0,693.5 306.6,780.0 307.3,693.5 308.0,750.0 308.6,693.5 309.3,790.0 310.0,693.5 310.6,770.0 311.3,693.5 312.0,760.0 312.6,693.5 313.3,785.0 314.0,693.5 314.6,760.0 315.3,693.5 316.0,775.0 316.6,693.5 317.5,693.5 318.5,750.7 320.0,775.0 321.0,760.0 322.5,781.0 324.5,801.2 326.0,790.0 328.6,821.4 330.5,815.0 332.6,833.5 335.7,803.2 336.7,807.9 337.7,813.0 338.7,817.4 341.7,847.7 343.7,833.5 345.8,801.2 347.8,703.2 349.8,781.0 351.8,718.4 353.0,770.0 354.8,760.8 357.9,693.5 359.0,693.5 360.0,710.0 361.0,693.5 363.9,693.5 365.0,730.5 366.0,733.3 367.0,736.4 368.0,740.0 369.0,739.2 370.0,737.2 371.0,734.5 373.0,775.0 374.0,776.0 375.1,776.0 376.1,777.0 379.1,746.7 381.1,693.5 381.1,1019.8 544.1,1019.8 544.1,839.6 545.2,922.4 547.2,884.0 548.2,885.1 549.2,888.0 550.2,908.3 551.2,909.3 552.2,911.8 553.2,914.3 554.2,915.5 555.3,915.2 556.3,916.4 557.3,930.5 558.3,932.7 559.3,936.0 560.3,938.6 561.3,937.7 562.3,936.6 563.3,935.0 564.3,932.5 565.3,930.0 566.4,927.4 567.4,924.4 568.4,929.1 569.4,934.5 570.4,902.2 571.4,781.0 571.4,693.5 574.4,693.5 576.5,740.6 578.1,785.0 579.5,693.5 584.5,693.5 586.6,797.2 588.6,693.5 590.6,740.6 592.2,693.5 593.6,766.9 595.0,693.5 616.9,693.5 616.9,1019.8 634.6,1019.8 634.6,693.5 652.2,693.5 654.2,708.3 655.2,710.6 656.2,714.6 657.3,716.6 658.3,720.4 659.3,721.6 660.3,720.3 661.3,721.8 662.3,720.8 663.3,722.5 664.3,722.4 665.3,721.9 666.3,723.0 667.3,723.6 668.4,721.9 669.4,722.8 670.4,722.4 671.4,723.4 672.4,720.6 673.5,718.5 674.5,717.6 675.5,714.3 676.5,709.8 677.5,706.4 678.5,701.3 679.5,697.1 680.5,693.5 708.8,693.5 709.8,785.0 710.8,878.0 711.8,878.0 712.3,700.0 712.8,760.8 713.0,878.0 713.6,693.5 718.1,693.5 718.6,698.0 719.0,693.5 724.0,693.5 724.3,699.2 724.8,693.5 734.2,693.5 735.3,760.8 736.3,890.1 739.3,890.1 740.3,693.5 742.3,841.6 743.3,693.5 745.4,777.0 746.4,693.5 748.4,825.5 750.4,693.5 752.4,740.6 753.4,693.5 755.5,793.1 757.5,693.5 758.5,873.9 760.5,861.8 762.5,700.2 764.5,861.8 765.5,857.5 766.6,853.7 767.6,855.3 768.6,856.6 769.6,857.8 772.6,821.4 774.6,693.5 776.3,693.5 776.3,1019.8 905.0,1019.8" fill="none" stroke="#ff0000" stroke-width="3.6" stroke-linejoin="round" stroke-linecap="round"/>
<text transform="translate(91.20,704.71) scale(0.3000,0.3250)" font-size="100" text-anchor="end" fill="#0000ff" font-family="Liberation Serif, Times New Roman, serif">100</text>
<text transform="translate(91.20,769.81) scale(0.3000,0.3250)" font-size="100" text-anchor="end" fill="#0000ff" font-family="Liberation Serif, Times New Roman, serif">80</text>
<text transform="translate(91.20,834.92) scale(0.3000,0.3250)" font-size="100" text-anchor="end" fill="#0000ff" font-family="Liberation Serif, Times New Roman, serif">60</text>
<text transform="translate(91.20,900.03) scale(0.3000,0.3250)" font-size="100" text-anchor="end" fill="#0000ff" font-family="Liberation Serif, Times New Roman, serif">40</text>
<text transform="translate(91.20,965.14) scale(0.3000,0.3250)" font-size="100" text-anchor="end" fill="#0000ff" font-family="Liberation Serif, Times New Roman, serif">20</text>
<text transform="translate(91.20,1030.24) scale(0.3000,0.3250)" font-size="100" text-anchor="end" fill="#0000ff" font-family="Liberation Serif, Times New Roman, serif">0</text>
<text transform="translate(907.42,704.77) scale(0.3200,0.3200)" font-size="100" text-anchor="start" fill="#ff0000" font-family="Liberation Serif, Times New Roman, serif">1</text>
<text transform="translate(906.92,769.55) scale(0.3200,0.3200)" font-size="100" text-anchor="start" fill="#ff0000" font-family="Liberation Serif, Times New Roman, serif">0.8</text>
<text transform="translate(906.92,834.66) scale(0.3200,0.3200)" font-size="100" text-anchor="start" fill="#ff0000" font-family="Liberation Serif, Times New Roman, serif">0.6</text>
<text transform="translate(906.92,899.77) scale(0.3200,0.3200)" font-size="100" text-anchor="start" fill="#ff0000" font-family="Liberation Serif, Times New Roman, serif">0.4</text>
<text transform="translate(906.92,964.88) scale(0.3200,0.3200)" font-size="100" text-anchor="start" fill="#ff0000" font-family="Liberation Serif, Times New Roman, serif">0.2</text>
<text transform="translate(906.92,1029.98) scale(0.3200,0.3200)" font-size="100" text-anchor="start" fill="#ff0000" font-family="Liberation Serif, Times New Roman, serif">0</text>
<text transform="translate(93.39,1116.18) scale(0.3150,0.3170)" font-size="100" text-anchor="middle" fill="#000" font-family="Liberation Serif, Times New Roman, serif">9h</text>
<text transform="translate(184.21,1115.87) scale(0.3150,0.3170)" font-size="100" text-anchor="middle" fill="#000" font-family="Liberation Serif, Times New Roman, serif">10h</text>
<text transform="translate(274.37,1116.18) scale(0.3150,0.3170)" font-size="100" text-anchor="middle" fill="#000" font-family="Liberation Serif, Times New Roman, serif">11h</text>
<text transform="translate(364.54,1116.18) scale(0.3150,0.3170)" font-size="100" text-anchor="middle" fill="#000" font-family="Liberation Serif, Times New Roman, serif">12h</text>
<text transform="translate(454.71,1116.18) scale(0.3150,0.3170)" font-size="100" text-anchor="middle" fill="#000" font-family="Liberation Serif, Times New Roman, serif">13h</text>
<text transform="translate(544.87,1116.18) scale(0.3150,0.3170)" font-size="100" text-anchor="middle" fill="#000" font-family="Liberation Serif, Times New Roman, serif">14h</text>
<text transform="translate(635.04,1116.18) scale(0.3150,0.3170)" font-size="100" text-anchor="middle" fill="#000" font-family="Liberation Serif, Times New Roman, serif">15h</text>
<text transform="translate(725.21,1115.87) scale(0.3150,0.3170)" font-size="100" text-anchor="middle" fill="#000" font-family="Liberation Serif, Times New Roman, serif">16h</text>
<text transform="translate(815.37,1116.18) scale(0.3150,0.3170)" font-size="100" text-anchor="middle" fill="#000" font-family="Liberation Serif, Times New Roman, serif">17h</text>
<text transform="translate(905.54,1115.87) scale(0.3150,0.3170)" font-size="100" text-anchor="middle" fill="#000" font-family="Liberation Serif, Times New Roman, serif">18h</text>
<text transform="translate(29.61,924.09) rotate(-90) scale(0.3564,0.3422)" font-size="100" text-anchor="start" fill="#0000ff" font-family="Liberation Serif, Times New Roman, serif">SOC (%)</text>
<text transform="translate(978.33,871.04) rotate(-90) scale(0.3456,0.3667)" font-size="100" text-anchor="start" fill="#ff0000" font-family="Liberation Serif, Times New Roman, serif">K</text>
<text transform="translate(468.44,1162.30) scale(0.3904,0.3667)" font-size="100" text-anchor="start" fill="#000" font-family="Liberation Serif, Times New Roman, serif">(<tspan font-weight="bold">b</tspan>)</text>
<line x1="213.50" y1="1220.0" x2="213.50" y2="1634.25" stroke="#555555" stroke-width="1.1" stroke-dasharray="8.9 8.85" stroke-dashoffset="1.75"/>
<line x1="303.50" y1="1220.0" x2="303.50" y2="1634.25" stroke="#555555" stroke-width="1.1" stroke-dasharray="8.9 8.85" stroke-dashoffset="1.75"/>
<line x1="393.50" y1="1220.0" x2="393.50" y2="1634.25" stroke="#555555" stroke-width="1.1" stroke-dasharray="8.9 8.85" stroke-dashoffset="1.75"/>
<line x1="483.50" y1="1220.0" x2="483.50" y2="1634.25" stroke="#555555" stroke-width="1.1" stroke-dasharray="8.9 8.85" stroke-dashoffset="1.75"/>
<line x1="573.50" y1="1220.0" x2="573.50" y2="1634.25" stroke="#555555" stroke-width="1.1" stroke-dasharray="8.9 8.85" stroke-dashoffset="1.75"/>
<line x1="663.50" y1="1220.0" x2="663.50" y2="1634.25" stroke="#555555" stroke-width="1.1" stroke-dasharray="8.9 8.85" stroke-dashoffset="1.75"/>
<line x1="753.50" y1="1220.0" x2="753.50" y2="1634.25" stroke="#555555" stroke-width="1.1" stroke-dasharray="8.9 8.85" stroke-dashoffset="1.75"/>
<line x1="843.50" y1="1220.0" x2="843.50" y2="1634.25" stroke="#555555" stroke-width="1.1" stroke-dasharray="8.9 8.85" stroke-dashoffset="1.75"/>
<line x1="123.5" y1="1289.04" x2="933.5" y2="1289.04" stroke="#8c8c8c" stroke-width="1.2" stroke-dasharray="8.9 8.85" stroke-dashoffset="0.35"/>
<line x1="123.5" y1="1358.08" x2="933.5" y2="1358.08" stroke="#8c8c8c" stroke-width="1.2" stroke-dasharray="8.9 8.85" stroke-dashoffset="0.35"/>
<line x1="123.5" y1="1427.12" x2="933.5" y2="1427.12" stroke="#8c8c8c" stroke-width="1.2" stroke-dasharray="8.9 8.85" stroke-dashoffset="0.35"/>
<line x1="123.5" y1="1496.17" x2="933.5" y2="1496.17" stroke="#8c8c8c" stroke-width="1.2" stroke-dasharray="8.9 8.85" stroke-dashoffset="0.35"/>
<line x1="123.5" y1="1565.21" x2="933.5" y2="1565.21" stroke="#8c8c8c" stroke-width="1.2" stroke-dasharray="8.9 8.85" stroke-dashoffset="0.35"/>
<line x1="123.50" y1="1634.25" x2="123.50" y2="1628.25" stroke="#555" stroke-width="1.1"/>
<line x1="123.50" y1="1220.0" x2="123.50" y2="1226.0" stroke="#555" stroke-width="1.1"/>
<line x1="213.50" y1="1634.25" x2="213.50" y2="1628.25" stroke="#555" stroke-width="1.1"/>
<line x1="213.50" y1="1220.0" x2="213.50" y2="1226.0" stroke="#555" stroke-width="1.1"/>
<line x1="303.50" y1="1634.25" x2="303.50" y2="1628.25" stroke="#555" stroke-width="1.1"/>
<line x1="303.50" y1="1220.0" x2="303.50" y2="1226.0" stroke="#555" stroke-width="1.1"/>
<line x1="393.50" y1="1634.25" x2="393.50" y2="1628.25" stroke="#555" stroke-width="1.1"/>
<line x1="393.50" y1="1220.0" x2="393.50" y2="1226.0" stroke="#555" stroke-width="1.1"/>
<line x1="483.50" y1="1634.25" x2="483.50" y2="1628.25" stroke="#555" stroke-width="1.1"/>
<line x1="483.50" y1="1220.0" x2="483.50" y2="1226.0" stroke="#555" stroke-width="1.1"/>
<line x1="573.50" y1="1634.25" x2="573.50" y2="1628.25" stroke="#555" stroke-width="1.1"/>
<line x1="573.50" y1="1220.0" x2="573.50" y2="1226.0" stroke="#555" stroke-width="1.1"/>
<line x1="663.50" y1="1634.25" x2="663.50" y2="1628.25" stroke="#555" stroke-width="1.1"/>
<line x1="663.50" y1="1220.0" x2="663.50" y2="1226.0" stroke="#555" stroke-width="1.1"/>
<line x1="753.50" y1="1634.25" x2="753.50" y2="1628.25" stroke="#555" stroke-width="1.1"/>
<line x1="753.50" y1="1220.0" x2="753.50" y2="1226.0" stroke="#555" stroke-width="1.1"/>
<line x1="843.50" y1="1634.25" x2="843.50" y2="1628.25" stroke="#555" stroke-width="1.1"/>
<line x1="843.50" y1="1220.0" x2="843.50" y2="1226.0" stroke="#555" stroke-width="1.1"/>
<line x1="933.50" y1="1634.25" x2="933.50" y2="1628.25" stroke="#555" stroke-width="1.1"/>
<line x1="933.50" y1="1220.0" x2="933.50" y2="1226.0" stroke="#555" stroke-width="1.1"/>
<line x1="123.5" y1="1220.00" x2="129.5" y2="1220.00" stroke="#555" stroke-width="1.1"/>
<line x1="933.5" y1="1220.00" x2="927.5" y2="1220.00" stroke="#555" stroke-width="1.1"/>
<line x1="123.5" y1="1289.04" x2="129.5" y2="1289.04" stroke="#555" stroke-width="1.1"/>
<line x1="933.5" y1="1289.04" x2="927.5" y2="1289.04" stroke="#555" stroke-width="1.1"/>
<line x1="123.5" y1="1358.08" x2="129.5" y2="1358.08" stroke="#555" stroke-width="1.1"/>
<line x1="933.5" y1="1358.08" x2="927.5" y2="1358.08" stroke="#555" stroke-width="1.1"/>
<line x1="123.5" y1="1427.12" x2="129.5" y2="1427.12" stroke="#555" stroke-width="1.1"/>
<line x1="933.5" y1="1427.12" x2="927.5" y2="1427.12" stroke="#555" stroke-width="1.1"/>
<line x1="123.5" y1="1496.17" x2="129.5" y2="1496.17" stroke="#555" stroke-width="1.1"/>
<line x1="933.5" y1="1496.17" x2="927.5" y2="1496.17" stroke="#555" stroke-width="1.1"/>
<line x1="123.5" y1="1565.21" x2="129.5" y2="1565.21" stroke="#555" stroke-width="1.1"/>
<line x1="933.5" y1="1565.21" x2="927.5" y2="1565.21" stroke="#555" stroke-width="1.1"/>
<line x1="123.5" y1="1634.25" x2="129.5" y2="1634.25" stroke="#555" stroke-width="1.1"/>
<line x1="933.5" y1="1634.25" x2="927.5" y2="1634.25" stroke="#555" stroke-width="1.1"/>
<rect x="123.5" y="1220.0" width="810.0" height="414.25" fill="none" stroke="#707070" stroke-width="1.4"/>
<line x1="124.9" y1="1369.3" x2="933.5" y2="1369.3" stroke="#3c3c3c" stroke-width="4" stroke-dasharray="29.3 10.7 3.3 10.7"/>
<polyline points="739.0,1392.7 740.2,1401.9 741.9,1392.3 743.7,1401.9 745.6,1393.3 746.9,1401.0 748.9,1391.5 750.2,1403.4 751.9,1392.1 753.2,1401.1 755.4,1391.0 757.3,1402.2 759.4,1392.2 761.5,1402.7 763.3,1391.7 765.4,1401.3 766.7,1390.3 768.3,1401.8 770.5,1392.6 772.5,1402.8 773.7,1392.1 775.4,1402.6 777.6,1391.1 779.7,1401.9 781.5,1392.0 783.5,1401.7 784.8,1390.7 786.3,1397.1 787.9,1391.4 789.7,1397.6 791.7,1389.3 793.2,1398.5 795.2,1391.2 796.4,1396.4 798.1,1389.6 799.8,1395.8" fill="none" stroke="#0000ff" stroke-width="2.6" stroke-linejoin="round"/>
<polyline points="123.9,1431.6 124.9,1431.4 126.0,1431.0 127.0,1431.5 128.1,1431.1 129.1,1431.0 130.1,1431.0 131.2,1430.4 132.2,1431.0 133.3,1430.7 134.3,1430.6 135.3,1430.4 136.4,1429.7 137.4,1430.0 138.5,1429.5 139.5,1429.6 140.6,1429.5 141.7,1429.8 142.8,1429.3 143.9,1428.7 144.9,1429.3 146.0,1429.4 147.1,1429.1 148.2,1428.9 149.3,1428.6 150.4,1428.7 151.6,1429.4 152.7,1429.6 153.8,1430.5 155.0,1431.2 156.1,1431.6 157.2,1431.3 158.4,1430.2 159.6,1429.5 160.7,1428.7 161.8,1427.9 163.0,1427.7 164.2,1427.4 165.3,1426.7 166.5,1426.3 167.6,1426.0 168.8,1425.3 170.0,1425.5 171.2,1426.2 172.3,1426.1 173.5,1426.5 174.7,1426.7 176.0,1428.0 177.3,1428.4 178.6,1429.6 179.9,1428.9 181.2,1427.4 182.5,1426.7 183.7,1427.6 184.9,1428.1 186.0,1429.1 187.2,1429.3 188.4,1430.0 189.5,1430.0 190.6,1429.2 191.7,1429.6 192.9,1429.2 194.0,1428.7 195.1,1429.1 196.2,1428.6 197.4,1427.3 198.5,1426.7 199.7,1425.8 200.8,1424.3 202.0,1423.8 203.2,1423.5 204.4,1422.7 205.5,1423.2 206.7,1422.2 207.9,1422.2 209.1,1422.7 210.4,1423.4 211.6,1423.3 212.8,1423.8 212.8,1458.9 213.8,1458.3 214.8,1458.6 215.8,1458.8 216.9,1458.6 217.9,1459.0 218.9,1458.0 219.9,1458.0 220.9,1458.1 221.9,1458.1 223.0,1458.4 224.0,1457.7 225.0,1457.5 226.0,1458.1 227.0,1457.7 228.0,1457.2 229.1,1458.1 230.1,1457.1 231.1,1457.4 232.1,1457.2 233.1,1457.8 234.1,1457.2 235.2,1456.9 236.2,1457.4 237.2,1457.0 238.2,1456.6 239.2,1456.5 240.2,1456.9 241.3,1456.2 242.3,1456.4 243.3,1456.7 244.3,1456.6 245.3,1456.5 246.3,1455.9 247.4,1455.7 248.4,1456.3 249.4,1455.9 250.4,1456.0 251.4,1455.5 252.4,1455.4 253.5,1455.4 254.5,1455.8 255.5,1455.3 256.5,1455.2 257.5,1455.7 258.5,1455.2 259.6,1455.5 260.6,1455.2 261.6,1455.2 262.6,1455.0 262.6,1427.0 289.9,1427.0 290.9,1423.3 291.9,1419.8 293.4,1413.9 294.8,1408.1 296.8,1400.3 298.7,1408.1 300.1,1403.2 301.6,1398.4 302.6,1402.3 303.6,1406.5 304.6,1410.0 305.9,1405.9 307.2,1401.7 308.5,1397.4 313.4,1397.4 315.0,1398.0 316.0,1399.0 317.6,1396.9 319.5,1409.6 321.5,1396.9 322.6,1396.9 323.7,1396.2 324.8,1396.3 325.8,1396.4 326.9,1396.9 328.0,1396.5 329.1,1396.6 330.2,1396.2 331.2,1396.0 333.2,1423.3 336.1,1396.0 337.6,1401.2 339.0,1405.7 340.0,1400.3 341.0,1395.0 342.0,1395.3 343.1,1395.3 344.1,1394.8 345.1,1394.5 346.2,1394.6 347.2,1394.7 348.2,1394.1 349.3,1394.2 350.3,1393.5 351.4,1393.9 352.4,1393.5 353.4,1393.9 354.5,1393.3 355.5,1393.5 356.5,1393.2 357.6,1393.6 358.6,1393.0 359.6,1393.3 360.7,1392.4 361.7,1393.1 362.7,1392.8 363.7,1392.1 364.8,1392.6 365.8,1392.7 366.8,1392.0 367.8,1392.1 368.9,1391.6 369.9,1391.7 370.9,1391.7 371.9,1391.6 373.0,1391.2 374.0,1391.9 375.0,1390.8 376.0,1390.9 377.1,1390.9 378.1,1391.0 379.2,1390.7 380.2,1390.4 381.3,1390.7 382.3,1390.5 383.4,1390.5 384.4,1390.2 385.5,1390.9 386.5,1390.7 387.6,1389.9 388.6,1389.8 389.7,1390.4 390.7,1389.9 391.8,1390.1 393.4,1394.0 394.7,1389.7 395.8,1389.4 396.8,1389.4 397.9,1389.8 398.9,1388.8 400.0,1388.9 401.0,1389.2 402.1,1388.9 403.1,1388.6 404.2,1388.6 405.2,1388.0 406.3,1388.2 407.3,1388.4 408.4,1388.1 409.4,1427.2 573.0,1427.4 573.7,1464.9 574.7,1464.3 575.8,1464.6 576.8,1464.2 577.8,1464.0 578.8,1464.0 579.9,1463.8 580.9,1463.6 581.9,1463.6 582.9,1463.9 584.0,1463.6 585.0,1463.4 586.0,1463.6 587.0,1463.6 588.0,1463.3 589.0,1462.7 590.0,1462.8 591.0,1462.6 592.0,1463.0 593.0,1462.8 594.0,1462.7 595.0,1462.8 596.0,1462.1 597.0,1462.1 598.0,1462.3 599.0,1462.4 600.0,1462.0 601.5,1435.0 602.2,1403.4 603.2,1398.9 604.2,1395.9 605.2,1391.5 606.2,1391.0 607.2,1390.8 608.2,1390.7 609.7,1414.0 610.9,1411.1 612.0,1408.0 613.0,1402.9 614.0,1396.6 615.0,1391.5 616.0,1391.2 617.0,1391.3 618.0,1390.7 619.0,1390.6 620.0,1390.5 621.0,1390.0 622.1,1390.5 623.2,1390.3 624.4,1391.5 625.5,1391.5 626.5,1394.7 627.5,1398.4 628.5,1402.0 629.6,1404.6 630.8,1406.4 631.9,1408.7 633.0,1411.0 634.2,1412.6 635.5,1413.8 636.7,1415.4 637.8,1414.1 639.0,1413.2 640.1,1411.8 641.2,1411.0 642.2,1406.4 643.2,1401.7 644.2,1397.5 645.0,1427.4 661.6,1427.0 662.5,1448.8 663.5,1451.7 664.5,1455.8 665.5,1458.6 666.7,1459.9 667.8,1461.0 669.0,1461.5 670.1,1462.3 671.3,1463.5 672.6,1462.3 673.9,1460.0 675.2,1458.6 676.2,1429.3 677.2,1458.6 678.5,1460.5 679.8,1462.7 681.1,1464.5 682.1,1464.1 683.2,1464.3 684.2,1464.5 685.3,1464.2 686.3,1463.8 687.3,1463.5 688.4,1463.7 689.4,1463.6 690.5,1463.3 691.5,1463.3 692.5,1463.2 693.6,1462.8 694.6,1463.5 695.7,1463.3 696.7,1462.9 697.8,1462.8 698.8,1462.3 699.9,1462.5 700.9,1462.1 702.0,1461.8 703.0,1461.7 704.0,1461.8 705.1,1461.4 706.1,1461.5 707.2,1461.6 708.2,1461.3 709.3,1460.9 710.8,1457.3 712.2,1453.0 713.4,1452.2 714.7,1450.9 715.9,1449.4 717.1,1448.2 718.2,1447.4 719.3,1446.7 720.4,1446.5 721.5,1445.6 722.5,1445.1 723.6,1444.7 724.7,1444.2 725.8,1444.3 726.9,1443.3 728.3,1441.0 729.8,1439.4 730.8,1414.0 732.7,1441.3 734.0,1439.5 735.3,1437.0 736.6,1435.5 737.6,1394.5 738.8,1396.8 740.0,1398.0 741.3,1400.2 742.5,1402.3 743.8,1399.0 745.1,1396.1 746.4,1392.5 747.7,1393.8 749.0,1394.9 750.3,1396.4 751.8,1394.7 753.2,1392.5 754.2,1395.8 755.2,1400.1 756.2,1403.2 757.5,1403.0 758.8,1402.1 760.1,1402.3 761.5,1397.9 763.0,1392.5 764.5,1392.4 765.9,1391.5 769.8,1391.5 771.1,1396.1 772.4,1401.8 773.8,1406.2 775.0,1401.6 776.4,1397.5 777.6,1392.5 779.0,1392.2 780.3,1391.7 781.6,1391.5 782.9,1391.7 784.2,1392.4 785.5,1392.5 786.8,1392.1 788.1,1391.5 789.4,1390.5 790.7,1391.4 792.0,1391.5 793.3,1392.5 794.6,1390.8 795.9,1389.7 797.2,1388.6 802.1,1388.6 803.0,1435.5 804.4,1436.2 805.0,1427.4 933.5,1427.4" fill="none" stroke="#0000ff" stroke-width="3.6" stroke-linejoin="round" stroke-linecap="round"/>
<polyline points="410.5,1390.7 412.4,1409.6 414.6,1380.2 415.8,1407.0 417.2,1380.5 418.7,1406.8" fill="none" stroke="#ff0000" stroke-width="2.6" stroke-linejoin="round"/>
<polyline points="502.0,1371.8 503.6,1398.2 505.1,1372.4 506.9,1391.3 509.1,1370.5 510.8,1398.7 512.4,1370.5 513.8,1393.5 515.4,1368.6 516.6,1397.1 517.8,1375.2 519.1,1393.2 520.5,1369.6 521.8,1397.6 523.3,1369.6 525.0,1391.6 526.8,1376.8 528.9,1403.4" fill="none" stroke="#ff0000" stroke-width="2.6" stroke-linejoin="round"/>
<polyline points="530.0,1376.0 531.4,1394.9 533.2,1362.4 535.0,1386.9 536.4,1357.0 538.1,1393.2 539.4,1356.3 541.0,1384.9 542.2,1353.0 543.7,1392.6" fill="none" stroke="#ff0000" stroke-width="2.6" stroke-linejoin="round"/>
<polyline points="560.0,1362.4 561.6,1386.6 563.6,1368.4 564.9,1396.9 566.1,1374.7 568.3,1395.5 569.8,1374.6 571.9,1399.9" fill="none" stroke="#ff0000" stroke-width="2.6" stroke-linejoin="round"/>
<polyline points="833.0,1368.3 834.4,1394.3 835.9,1369.7 837.7,1394.6 839.1,1370.0 840.8,1391.8 842.5,1366.9 844.7,1393.2 846.2,1365.5 847.6,1396.7 849.4,1371.9 851.5,1387.9 853.3,1370.4 854.8,1386.2 856.1,1369.4 857.8,1390.0 859.7,1368.0 861.4,1393.1 863.6,1367.9 865.0,1395.8" fill="none" stroke="#ff0000" stroke-width="2.6" stroke-linejoin="round"/>
<polyline points="123.9,1427.0 212.8,1427.0 212.8,1437.4 214.2,1439.0 215.7,1441.3 216.9,1442.1 218.1,1443.4 219.4,1443.8 220.6,1445.2 221.7,1445.8 222.9,1444.2 224.0,1443.5 225.1,1443.5 226.3,1443.2 227.4,1442.9 228.6,1442.7 229.8,1441.6 230.9,1441.8 232.1,1442.5 233.3,1441.3 234.6,1441.1 235.9,1443.0 237.2,1442.9 238.3,1442.2 239.4,1442.1 240.5,1443.0 241.7,1441.9 242.8,1442.6 243.9,1440.6 245.0,1441.3 246.1,1440.6 247.2,1438.9 248.3,1439.0 249.4,1438.8 250.4,1436.8 251.5,1436.2 252.6,1436.7 253.7,1435.8 254.8,1434.5 256.0,1434.1 257.1,1433.5 258.3,1432.2 259.4,1432.2 260.6,1431.6 261.6,1432.1 262.6,1430.8 263.6,1430.6 264.1,1458.9 265.5,1460.9 266.8,1455.5 268.1,1452.6 269.4,1447.2 271.4,1460.9 272.9,1458.5 274.3,1455.0 276.2,1453.0 278.2,1464.8 279.2,1464.9 280.2,1466.7 281.4,1465.8 282.5,1464.4 283.7,1465.1 284.8,1463.9 286.0,1462.8 287.0,1460.8 288.0,1457.0 289.9,1439.4 291.9,1427.0 293.0,1426.8 294.1,1427.7 295.1,1425.7 296.2,1425.9 297.3,1426.9 298.4,1426.3 299.4,1426.8 300.5,1425.6 301.6,1425.7 302.8,1425.0 304.0,1426.2 305.1,1425.8 306.3,1426.1 307.5,1427.0 309.5,1398.4 310.6,1396.6 311.7,1396.0 312.7,1397.3 313.7,1399.8 315.6,1427.2 317.1,1419.2 318.6,1411.6 320.5,1427.2 323.4,1407.7 324.4,1406.8 325.4,1405.7 326.9,1411.3 328.3,1415.5 329.8,1420.4 331.2,1427.2 335.2,1427.2 336.5,1423.7 337.7,1421.7 339.0,1419.4 340.0,1418.3 341.0,1416.6 342.0,1417.0 343.0,1415.5 344.3,1418.2 345.6,1422.9 346.9,1425.2 348.2,1421.0 349.5,1415.3 350.8,1411.6 352.1,1411.1 353.4,1408.9 354.7,1407.7 356.0,1407.6 357.3,1406.8 358.6,1405.7 359.9,1403.3 361.2,1401.8 362.5,1399.8 363.8,1400.2 365.1,1401.5 366.4,1403.8 367.7,1400.8 369.0,1399.4 370.3,1396.0 371.6,1397.7 372.9,1399.1 374.2,1399.8 375.5,1404.2 376.8,1409.8 378.1,1413.5 379.1,1419.5 380.1,1425.2 381.4,1422.5 382.7,1420.1 384.0,1416.4 385.3,1419.5 386.6,1423.0 387.9,1427.2 389.2,1425.3 390.5,1423.4 391.8,1421.3 393.1,1421.9 394.4,1421.2 395.7,1422.3 397.0,1420.2 398.3,1418.5 399.6,1417.4 400.8,1417.0 402.0,1416.8 403.1,1416.1 404.3,1416.7 405.5,1415.5 406.8,1418.6 408.1,1422.0 409.4,1425.2 410.4,1384.2 411.9,1381.5 413.3,1380.3 414.6,1379.7 415.9,1379.9 417.2,1378.4 419.1,1392.0 422.1,1413.5 425.0,1388.1 426.4,1384.0 427.9,1378.4 428.9,1373.5 429.9,1370.5 431.1,1370.5 432.4,1368.7 433.6,1368.2 434.8,1366.6 436.1,1367.1 437.4,1367.7 438.7,1369.6 439.8,1370.5 440.9,1369.8 441.9,1369.4 443.0,1369.5 444.1,1369.9 445.2,1369.6 446.2,1369.8 447.3,1370.6 448.4,1370.5 449.5,1371.5 450.6,1371.1 451.8,1371.0 452.9,1370.4 454.0,1370.2 455.1,1372.1 456.2,1371.5 457.4,1372.4 458.5,1372.5 459.6,1371.3 460.7,1371.1 461.8,1372.2 462.9,1372.3 464.0,1372.5 465.0,1373.5 466.0,1374.9 467.0,1376.2 468.0,1376.4 469.9,1399.8 471.1,1400.6 472.3,1401.9 473.4,1401.2 474.6,1402.4 475.8,1403.8 477.2,1401.3 478.7,1399.8 480.0,1394.4 481.3,1390.1 482.6,1384.2 483.8,1381.1 485.1,1380.0 486.3,1376.2 487.5,1374.5 488.8,1372.5 490.1,1371.6 491.4,1370.5 492.4,1370.2 493.5,1370.7 494.6,1370.0 495.6,1369.1 496.6,1368.6 497.7,1369.2 498.8,1369.4 499.8,1368.6 501.2,1364.6 502.7,1360.8 504.6,1397.9 507.6,1368.6 509.5,1399.8 511.5,1366.6 514.4,1397.9 517.3,1366.6 520.3,1399.8 523.2,1368.6 525.2,1405.7 528.1,1405.7 530.0,1374.5 531.3,1368.7 532.6,1363.6 533.9,1358.8 534.9,1355.4 535.9,1353.0 536.9,1349.0 537.9,1395.9 539.8,1345.2 541.8,1384.2 543.2,1391.9 544.7,1397.9 546.6,1329.5 547.6,1333.6 548.6,1339.3 550.0,1340.4 551.5,1343.2 552.5,1346.7 553.5,1350.0 554.5,1354.9 556.0,1348.1 557.4,1341.2 559.3,1358.8 560.3,1361.7 561.3,1363.3 562.3,1364.7 562.5,1390.0 563.6,1386.6 564.7,1384.0 566.2,1408.0 568.5,1387.0 570.0,1405.0 570.7,1373.5 573.7,1373.5 573.7,1514.4 576.0,1480.0 577.1,1482.7 578.2,1487.4 580.5,1505.4 581.6,1506.8 582.8,1508.1 583.9,1509.5 585.0,1509.9 586.1,1515.9 587.2,1520.4 590.2,1538.4 591.2,1535.9 592.2,1532.5 593.2,1529.4 594.2,1525.7 595.2,1522.1 596.2,1518.9 597.4,1524.7 598.5,1529.4 599.2,1494.9 600.0,1442.4 600.7,1427.4 605.0,1427.4 606.7,1412.4 608.5,1427.4 614.0,1427.4 616.5,1411.0 619.0,1427.4 621.0,1427.4 622.5,1415.4 624.0,1427.4 645.0,1427.4 645.7,1370.5 646.7,1369.2 647.7,1368.3 648.7,1366.0 650.0,1369.5 651.2,1371.5 652.5,1375.0 653.1,1380.3 654.4,1386.7 655.7,1393.7 657.0,1401.8 659.9,1366.6 660.9,1363.8 661.9,1362.7 662.9,1427.2 679.5,1427.2 680.6,1427.3 681.6,1428.8 682.7,1428.0 683.8,1427.9 684.8,1429.9 685.9,1429.6 687.1,1429.7 688.2,1430.1 689.4,1430.5 690.5,1429.6 691.7,1430.6 692.8,1430.5 693.9,1429.9 695.0,1429.7 696.2,1429.1 697.3,1429.9 698.4,1428.8 699.5,1429.6 700.6,1428.4 701.7,1429.1 702.8,1428.7 704.0,1428.8 705.1,1428.6 706.2,1427.4 707.3,1427.0 738.6,1427.0 739.6,1382.7 741.5,1382.7 742.5,1427.0 762.0,1427.0 764.0,1388.6 765.9,1373.0 766.9,1374.6 767.9,1374.9 768.9,1427.7 770.8,1396.4 773.8,1427.0 775.7,1404.2 777.6,1427.0 779.6,1404.2 781.6,1427.0 784.5,1400.3 787.4,1382.7 788.4,1427.0 790.3,1380.8 792.3,1427.0 794.3,1388.6 795.8,1389.9 797.2,1392.5 799.1,1400.3 801.1,1423.8 801.5,1403.2 803.7,1426.7 804.4,1388.6 806.6,1403.2 807.7,1397.4 808.8,1391.5 810.2,1394.6 811.7,1395.9 813.2,1392.8 814.6,1391.5 816.1,1373.9 817.6,1363.7 819.0,1370.1 820.5,1375.4 822.0,1371.1 823.4,1368.1 829.3,1368.1 830.4,1366.8 831.5,1367.4 832.6,1367.7 833.7,1366.6 835.2,1397.4 837.4,1372.5 839.5,1397.4 841.8,1365.2 843.9,1400.3 845.0,1400.7 846.1,1401.8 846.9,1372.5 848.3,1366.6 849.8,1391.5 851.3,1365.2 852.8,1369.0 854.2,1373.9 856.4,1394.5 857.9,1366.6 859.0,1369.9 860.0,1373.9 861.1,1370.5 862.2,1368.1 864.5,1385.7 865.5,1379.8 866.6,1373.9 867.4,1398.8 868.8,1401.0 870.3,1404.7 871.4,1405.2 872.5,1407.5 873.6,1407.4 874.7,1409.1 876.2,1409.8 877.6,1409.8 878.7,1406.4 879.8,1403.2 881.3,1388.6 883.5,1403.2 884.7,1395.6 885.9,1389.3 887.1,1382.7 889.4,1398.8 890.5,1393.1 891.5,1388.6 892.6,1392.4 893.6,1395.8 894.6,1398.6 895.7,1401.5 896.7,1404.7 897.9,1403.9 899.0,1400.6 900.2,1398.6 901.3,1397.1 902.5,1395.9 903.6,1393.7 904.7,1392.0 905.8,1388.5 906.9,1387.1 908.0,1390.6 909.1,1392.2 910.2,1395.4 911.3,1397.4 912.5,1399.4 913.7,1399.8 914.8,1402.9 916.0,1403.5 917.2,1405.4 918.4,1405.3 919.6,1405.2 920.8,1404.7 922.3,1393.0 923.8,1404.7 924.8,1404.1 925.8,1403.6 926.9,1403.6 927.9,1404.0 928.9,1403.2 930.4,1379.8 931.8,1378.7 933.3,1376.9 934.0,1394.5" fill="none" stroke="#ff0000" stroke-width="3.6" stroke-linejoin="round" stroke-linecap="round"/>
<line x1="439.1" y1="1219.3" x2="439.1" y2="1634.25" stroke="#00b050" stroke-width="3.8" stroke-dasharray="10.7 3.72"/>
<line x1="528.3" y1="1219.3" x2="528.3" y2="1634.25" stroke="#00b050" stroke-width="3.8" stroke-dasharray="10.7 3.72"/>
<line x1="800.4" y1="1219.3" x2="800.4" y2="1634.25" stroke="#00b050" stroke-width="3.8" stroke-dasharray="10.7 3.72"/>
<line x1="890.3" y1="1219.3" x2="890.3" y2="1541.8" stroke="#00b050" stroke-width="3.8" stroke-dasharray="10.7 3.72"/>
<text transform="translate(120.88,1230.14) scale(0.3210,0.2920)" font-size="100" text-anchor="end" fill="#000" font-family="Liberation Serif, Times New Roman, serif">300</text>
<text transform="translate(120.88,1299.19) scale(0.3210,0.2920)" font-size="100" text-anchor="end" fill="#000" font-family="Liberation Serif, Times New Roman, serif">200</text>
<text transform="translate(120.88,1368.23) scale(0.3210,0.2920)" font-size="100" text-anchor="end" fill="#000" font-family="Liberation Serif, Times New Roman, serif">100</text>
<text transform="translate(120.88,1437.27) scale(0.3210,0.2920)" font-size="100" text-anchor="end" fill="#000" font-family="Liberation Serif, Times New Roman, serif">0</text>
<text transform="translate(120.88,1506.31) scale(0.3210,0.2920)" font-size="100" text-anchor="end" fill="#000" font-family="Liberation Serif, Times New Roman, serif">-100</text>
<text transform="translate(120.88,1575.35) scale(0.3210,0.2920)" font-size="100" text-anchor="end" fill="#000" font-family="Liberation Serif, Times New Roman, serif">-200</text>
<text transform="translate(120.88,1644.39) scale(0.3210,0.2920)" font-size="100" text-anchor="end" fill="#000" font-family="Liberation Serif, Times New Roman, serif">-300</text>
<text transform="translate(123.44,1662.51) scale(0.3100,0.2870)" font-size="100" text-anchor="middle" fill="#000" font-family="Liberation Serif, Times New Roman, serif">9h</text>
<text transform="translate(213.76,1662.23) scale(0.3100,0.2870)" font-size="100" text-anchor="middle" fill="#000" font-family="Liberation Serif, Times New Roman, serif">10h</text>
<text transform="translate(303.76,1662.51) scale(0.3100,0.2870)" font-size="100" text-anchor="middle" fill="#000" font-family="Liberation Serif, Times New Roman, serif">11h</text>
<text transform="translate(393.76,1662.51) scale(0.3100,0.2870)" font-size="100" text-anchor="middle" fill="#000" font-family="Liberation Serif, Times New Roman, serif">12h</text>
<text transform="translate(483.76,1662.51) scale(0.3100,0.2870)" font-size="100" text-anchor="middle" fill="#000" font-family="Liberation Serif, Times New Roman, serif">13h</text>
<text transform="translate(573.76,1662.51) scale(0.3100,0.2870)" font-size="100" text-anchor="middle" fill="#000" font-family="Liberation Serif, Times New Roman, serif">14h</text>
<text transform="translate(663.76,1662.51) scale(0.3100,0.2870)" font-size="100" text-anchor="middle" fill="#000" font-family="Liberation Serif, Times New Roman, serif">15h</text>
<text transform="translate(753.76,1662.23) scale(0.3100,0.2870)" font-size="100" text-anchor="middle" fill="#000" font-family="Liberation Serif, Times New Roman, serif">16h</text>
<text transform="translate(843.76,1662.51) scale(0.3100,0.2870)" font-size="100" text-anchor="middle" fill="#000" font-family="Liberation Serif, Times New Roman, serif">17h</text>
<text transform="translate(933.76,1662.23) scale(0.3100,0.2870)" font-size="100" text-anchor="middle" fill="#000" font-family="Liberation Serif, Times New Roman, serif">18h</text>
<text transform="translate(47.06,1461.50) rotate(-90) scale(0.3256,0.3211)" font-size="100" text-anchor="start" fill="#000" font-family="Liberation Serif, Times New Roman, serif">(kW)</text>
<text transform="translate(471.23,1713.67) scale(0.3811,0.3611)" font-size="100" text-anchor="start" fill="#000" font-family="Liberation Serif, Times New Roman, serif">(<tspan font-weight="bold">c</tspan>)</text>
<rect x="819" y="1542.5" width="109" height="87" fill="#fff"/>
<line x1="825" y1="1559.8" x2="858.1" y2="1559.8" stroke="#0000ff" stroke-width="3.6"/>
<line x1="825" y1="1604.9" x2="858.1" y2="1604.9" stroke="#ff0000" stroke-width="3.6"/>
<text transform="translate(860.42,1564.05) scale(0.3409,0.2882)" font-size="100" text-anchor="start" fill="#000" font-family="Liberation Serif, Times New Roman, serif">p</text>
<text transform="translate(875.90,1577.43) scale(0.2574,0.2353)" font-size="100" text-anchor="start" fill="#000" font-family="Liberation Serif, Times New Roman, serif">STO</text>
<text transform="translate(860.42,1610.55) scale(0.3409,0.2882)" font-size="100" text-anchor="start" fill="#000" font-family="Liberation Serif, Times New Roman, serif">p</text>
<text transform="translate(876.56,1623.54) scale(0.2475,0.2294)" font-size="100" text-anchor="start" fill="#000" font-family="Liberation Serif, Times New Roman, serif">PG</text>
</svg></body></html>
